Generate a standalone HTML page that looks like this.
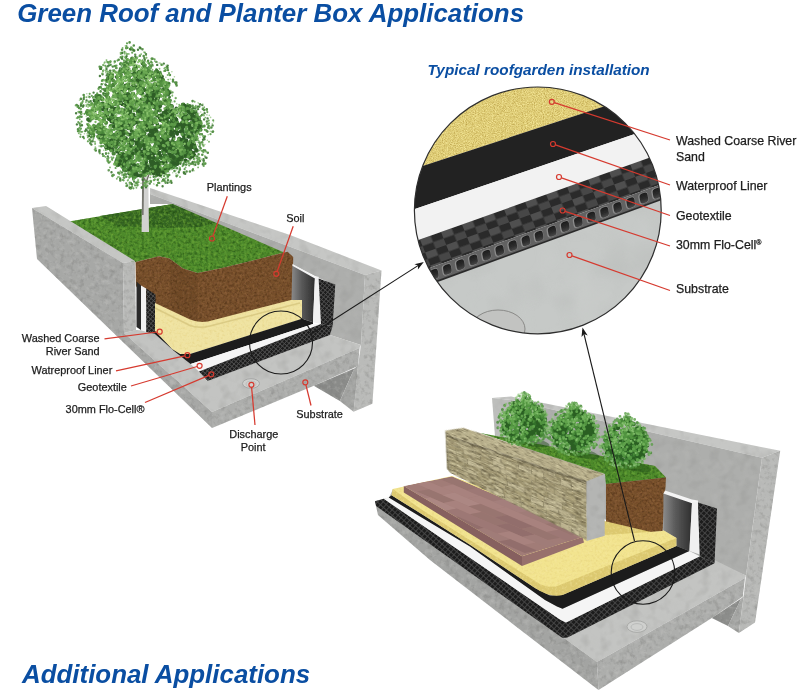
<!DOCTYPE html>
<html><head><meta charset="utf-8"><title>Green Roof and Planter Box Applications</title>
<style>
html,body{margin:0;padding:0;background:#fff;}
body{width:800px;height:692px;position:relative;overflow:hidden;font-family:"Liberation Sans",sans-serif;}
.t{position:absolute;white-space:nowrap;line-height:1;color:#1c1c1c;opacity:0.999;}
.h1{font:italic bold 25.9px "Liberation Sans",sans-serif;color:#0a4ea2;}
.h2{font:italic bold 15.3px "Liberation Sans",sans-serif;color:#0a4ea2;}
.s{font-size:10.9px;-webkit-text-stroke:0.25px #1c1c1c;}
.m{font-size:12.35px;-webkit-text-stroke:0.25px #1c1c1c;}
</style></head><body>
<svg width="800" height="692" viewBox="0 0 800 692" style="position:absolute;left:0;top:0"><defs><filter id="fConc" x="0" y="0" width="100%" height="100%" color-interpolation-filters="sRGB"><feTurbulence type="fractalNoise" baseFrequency="0.2" numOctaves="3" seed="3" result="n"/><feColorMatrix in="n" type="matrix" values="0 0 0 0 0.47  0 0 0 0 0.47  0 0 0 0 0.46  1.0 0 0 0 -0.47" result="a"/><feColorMatrix in="n" type="matrix" values="0 0 0 0 0.78  0 0 0 0 0.78  0 0 0 0 0.77  0 1.0 0 0 -0.47" result="a2"/><feMerge result="m"><feMergeNode in="a"/><feMergeNode in="a2"/></feMerge><feComposite in="m" in2="SourceGraphic" operator="in" result="b"/><feMerge><feMergeNode in="SourceGraphic"/><feMergeNode in="b"/></feMerge></filter><filter id="fConcS" x="0" y="0" width="100%" height="100%" color-interpolation-filters="sRGB"><feTurbulence type="fractalNoise" baseFrequency="0.1" numOctaves="2" seed="13" result="n"/><feColorMatrix in="n" type="matrix" values="0 0 0 0 0.52  0 0 0 0 0.52  0 0 0 0 0.51  0.6 0 0 0 -0.28" result="a"/><feColorMatrix in="n" type="matrix" values="0 0 0 0 0.76  0 0 0 0 0.76  0 0 0 0 0.75  0 0.6 0 0 -0.28" result="a2"/><feMerge result="m"><feMergeNode in="a"/><feMergeNode in="a2"/></feMerge><feComposite in="m" in2="SourceGraphic" operator="in" result="b"/><feMerge><feMergeNode in="SourceGraphic"/><feMergeNode in="b"/></feMerge></filter><filter id="fGrass" x="0" y="0" width="100%" height="100%" color-interpolation-filters="sRGB"><feTurbulence type="fractalNoise" baseFrequency="0.36" numOctaves="2" seed="5" result="n"/><feColorMatrix in="n" type="matrix" values="0 0 0 0 0.13  0 0 0 0 0.3  0 0 0 0 0.07  1.6 0 0 0 -0.66" result="a"/><feColorMatrix in="n" type="matrix" values="0 0 0 0 0.45  0 0 0 0 0.68  0 0 0 0 0.22  0 1.6 0 0 -0.66" result="a2"/><feMerge result="m"><feMergeNode in="a"/><feMergeNode in="a2"/></feMerge><feComposite in="m" in2="SourceGraphic" operator="in" result="b"/><feMerge><feMergeNode in="SourceGraphic"/><feMergeNode in="b"/></feMerge></filter><filter id="fSoil" x="0" y="0" width="100%" height="100%" color-interpolation-filters="sRGB"><feTurbulence type="fractalNoise" baseFrequency="0.4" numOctaves="2" seed="9" result="n"/><feColorMatrix in="n" type="matrix" values="0 0 0 0 0.3  0 0 0 0 0.18  0 0 0 0 0.08  1.6 0 0 0 -0.68" result="a"/><feColorMatrix in="n" type="matrix" values="0 0 0 0 0.58  0 0 0 0 0.4  0 0 0 0 0.23  0 1.6 0 0 -0.68" result="a2"/><feMerge result="m"><feMergeNode in="a"/><feMergeNode in="a2"/></feMerge><feComposite in="m" in2="SourceGraphic" operator="in" result="b"/><feMerge><feMergeNode in="SourceGraphic"/><feMergeNode in="b"/></feMerge></filter><filter id="fSand" x="0" y="0" width="100%" height="100%" color-interpolation-filters="sRGB"><feTurbulence type="fractalNoise" baseFrequency="0.4" numOctaves="2" seed="11" result="n"/><feColorMatrix in="n" type="matrix" values="0 0 0 0 0.88  0 0 0 0 0.79  0 0 0 0 0.46  1.1 0 0 0 -0.52" result="a"/><feColorMatrix in="n" type="matrix" values="0 0 0 0 0.97  0 0 0 0 0.92  0 0 0 0 0.66  0 1.1 0 0 -0.52" result="a2"/><feMerge result="m"><feMergeNode in="a"/><feMergeNode in="a2"/></feMerge><feComposite in="m" in2="SourceGraphic" operator="in" result="b"/><feMerge><feMergeNode in="SourceGraphic"/><feMergeNode in="b"/></feMerge></filter><filter id="fSand2" x="0" y="0" width="100%" height="100%" color-interpolation-filters="sRGB"><feTurbulence type="fractalNoise" baseFrequency="0.9" numOctaves="2" seed="21" result="n"/><feColorMatrix in="n" type="matrix" values="0 0 0 0 0.74  0 0 0 0 0.64  0 0 0 0 0.3  2.4 0 0 0 -1.05" result="a"/><feColorMatrix in="n" type="matrix" values="0 0 0 0 0.97  0 0 0 0 0.92  0 0 0 0 0.62  0 2.4 0 0 -1.05" result="a2"/><feMerge result="m"><feMergeNode in="a"/><feMergeNode in="a2"/></feMerge><feComposite in="m" in2="SourceGraphic" operator="in" result="b"/><feMerge><feMergeNode in="SourceGraphic"/><feMergeNode in="b"/></feMerge></filter><filter id="fSub" x="0" y="0" width="100%" height="100%" color-interpolation-filters="sRGB"><feTurbulence type="fractalNoise" baseFrequency="0.025" numOctaves="2" seed="8" result="n"/><feColorMatrix in="n" type="matrix" values="0 0 0 0 0.7  0 0 0 0 0.71  0 0 0 0 0.7  0.9 0 0 0 -0.42" result="a"/><feColorMatrix in="n" type="matrix" values="0 0 0 0 0.81  0 0 0 0 0.82  0 0 0 0 0.81  0 0.9 0 0 -0.42" result="a2"/><feMerge result="m"><feMergeNode in="a"/><feMergeNode in="a2"/></feMerge><feComposite in="m" in2="SourceGraphic" operator="in" result="b"/><feMerge><feMergeNode in="SourceGraphic"/><feMergeNode in="b"/></feMerge></filter><filter id="fStone" x="0" y="0" width="100%" height="100%" color-interpolation-filters="sRGB"><feTurbulence type="fractalNoise" baseFrequency="0.16 0.55" numOctaves="2" seed="14" result="n"/><feColorMatrix in="n" type="matrix" values="0 0 0 0 0.35  0 0 0 0 0.32  0 0 0 0 0.23  2.0 0 0 0 -0.9" result="a"/><feColorMatrix in="n" type="matrix" values="0 0 0 0 0.86  0 0 0 0 0.83  0 0 0 0 0.68  0 2.0 0 0 -0.9" result="a2"/><feMerge result="m"><feMergeNode in="a"/><feMergeNode in="a2"/></feMerge><feComposite in="m" in2="SourceGraphic" operator="in" result="b"/><feMerge><feMergeNode in="SourceGraphic"/><feMergeNode in="b"/></feMerge></filter><filter id="fPav" x="0" y="0" width="100%" height="100%" color-interpolation-filters="sRGB"><feTurbulence type="fractalNoise" baseFrequency="0.4" numOctaves="2" seed="15" result="n"/><feColorMatrix in="n" type="matrix" values="0 0 0 0 0.52  0 0 0 0 0.37  0 0 0 0 0.37  0.6 0 0 0 -0.27" result="a"/><feColorMatrix in="n" type="matrix" values="0 0 0 0 0.7  0 0 0 0 0.55  0 0 0 0 0.53  0 0.6 0 0 -0.27" result="a2"/><feMerge result="m"><feMergeNode in="a"/><feMergeNode in="a2"/></feMerge><feComposite in="m" in2="SourceGraphic" operator="in" result="b"/><feMerge><feMergeNode in="SourceGraphic"/><feMergeNode in="b"/></feMerge></filter>
<filter id="soft"><feGaussianBlur stdDeviation="0.55"/></filter>
<filter id="soft2"><feGaussianBlur stdDeviation="0.55"/></filter>
<pattern id="mesh" width="3.2" height="3.2" patternUnits="userSpaceOnUse" patternTransform="rotate(40)"><rect width="3.2" height="3.2" fill="#1d1d1d"/><path d="M0,0.4H3.2M0.4,0V3.2" stroke="#4e4e4e" stroke-width="0.8"/></pattern>
<pattern id="mesh2" width="4" height="4" patternUnits="userSpaceOnUse" patternTransform="rotate(42)"><rect width="4" height="4" fill="#1c1c1c"/><path d="M0,0.5H4M0.5,0V4" stroke="#474747" stroke-width="0.9"/></pattern>
<pattern id="checker" width="2" height="2" patternUnits="userSpaceOnUse" patternTransform="matrix(10.5,-3.78,2.6,6.5,420,239.5)"><rect width="2" height="2" fill="#2b2b2b"/><rect width="1" height="1" fill="#4f4f4f"/><rect x="1" y="1" width="1" height="1" fill="#474747"/></pattern><linearGradient id="gHole" x1="0" y1="0" x2="0" y2="1"><stop offset="0" stop-color="#1c1c1c"/><stop offset="0.6" stop-color="#2e2e2e"/><stop offset="1" stop-color="#484848"/></linearGradient>
<linearGradient id="gLinerUp" x1="0" y1="0" x2="1" y2="0"><stop offset="0" stop-color="#8a8a8a"/><stop offset="0.4" stop-color="#5c5c5c"/><stop offset="1" stop-color="#2e2e2e"/></linearGradient>
<clipPath id="bigc"><circle cx="537.8" cy="210.4" r="123.4"/></clipPath>
<clipPath id="pavc"><polygon points="403.75,486 452,476.5 584,533 582.5,537 522,556.25"/></clipPath>
</defs>
<g id="planter1" filter="url(#soft)">
<g filter="url(#fGrass)">
<polygon points="66.0,222.0 173.0,204.0 287.5,251.8 274.0,255.0 247.0,262.0 220.0,268.6 197.5,273.0 183.0,268.6 169.4,258.5 159.0,256.2 135.6,262.0 132.0,262.0" fill="#4d8a2c" />
<polygon points="100.0,216.0 173.0,204.0 218.0,222.0 200.0,227.0 165.0,228.0 118.0,226.0" fill="#356623" />
</g>
<g filter="url(#fConcS)">
<polygon points="150.0,188.0 290.0,235.0 381.5,270.5 365.0,275.0 150.0,194.0" fill="#c6c7c5" />
<polygon points="150.0,194.0 365.0,275.0 361.0,345.0 330.0,335.0 335.0,285.0 319.0,278.0 292.0,264.0 283.0,252.0 173.0,204.0 150.0,204.0" fill="#adaeac" />
<polygon points="32.0,208.0 46.0,206.0 135.0,261.0 123.0,263.0" fill="#c6c7c5" />
<polygon points="124.0,333.0 136.0,330.0 155.0,331.0 199.0,371.0 207.0,381.0 330.0,335.0 361.0,345.0 359.5,348.0 212.0,412.0" fill="#c3c4c2" />
</g>
<g filter="url(#fConc)">
<polygon points="32.0,208.0 123.0,263.0 124.0,333.0 212.0,412.0 212.0,428.0 37.0,259.0" fill="#a7a8a6" />
<polygon points="123.0,263.0 135.0,261.0 136.0,330.0 124.0,333.0" fill="#b9bab8" />
<polygon points="212.0,412.0 359.5,348.0 358.0,366.0 313.8,385.7 212.0,428.0" fill="#adaeac" />
<polygon points="313.8,385.7 354.3,368.4 339.9,401.0" fill="#8a8b89" />
<polygon points="354.3,368.4 358.0,365.5 356.0,390.0 353.6,411.8 339.9,401.0" fill="#a3a4a2" />
<polygon points="365.0,275.0 381.5,270.5 372.4,403.8 353.6,411.8 358.0,366.0 361.0,345.0" fill="#babbb9" />
</g>
<g filter="url(#fSoil)">
<polygon points="135.6,262.0 159.0,256.2 169.4,258.5 183.0,268.6 197.5,273.0 220.0,268.6 247.0,262.0 274.0,255.0 287.5,251.8 293.2,257.0 292.0,305.0 226.0,330.0 197.0,330.0 150.0,305.0 136.0,286.0" fill="#764f2c" />
</g>
<polygon points="169.4,258.5 183.0,268.6 197.5,273.0 198.0,322.0 172.0,310.0" fill="#4d3218" opacity="0.16"/>
<polygon points="136.5,281.5 141.0,285.5 141.0,330.0 136.5,327.0" fill="#2a2a2a" />
<polygon points="141.0,285.5 146.2,288.5 146.2,332.0 141.0,330.0" fill="#f2f2f2" />
<polygon points="146.2,288.5 155.5,294.5 155.5,334.0 146.2,332.0" fill="url(#mesh)" />
<g filter="url(#fSand)">
<path d="M155,303 L190,319.5 Q198,323 208,321.5 L291,300 L302,300 L302,319 L190,354 Q180,356 172,349 L155,331 Z" fill="#efe3a2"/>
</g>
<path d="M155,308 L189,325 Q198,329 210,326 L300,303" fill="none" stroke="#d6c67e" stroke-width="1.6" opacity="0.8"/>
<polygon points="292.4,265.0 315.0,277.6 313.0,322.3 302.0,318.7 302.0,300.0 291.5,300.0" fill="url(#gLinerUp)" />
<polygon points="292.4,264.0 314.5,276.3 318.6,276.8 318.6,278.5 314.5,278.3 292.4,265.8" fill="#f4f4f4" />
<polygon points="314.9,277.6 318.6,277.6 321.0,324.0 313.0,322.3" fill="#f0f0f0" />
<polygon points="318.6,278.5 335.3,284.6 332.6,326.0 321.0,324.0" fill="url(#mesh)" />
<polygon points="155.0,331.0 172.0,349.0 180.0,354.0 190.0,354.0 302.0,318.7 313.0,322.3 313.0,324.0 190.6,364.0 174.0,351.0 155.0,334.0" fill="#1c1c1c" />
<polygon points="190.6,364.0 313.0,324.0 321.0,324.0 199.0,371.5" fill="#f5f5f5" />
<polygon points="199.0,371.5 321.0,324.0 332.6,326.0 330.0,335.0 207.5,381.0" fill="url(#mesh)" />
<ellipse cx="251" cy="383.5" rx="8.5" ry="4.8" fill="#cfd0ce" stroke="#a2a3a1" stroke-width="0.9"/><ellipse cx="251" cy="384" rx="5" ry="2.8" fill="none" stroke="#b4b5b3" stroke-width="0.7"/>
</g>
<g id="tree" filter="url(#soft2)">
<polygon points="142.2,160.0 148.0,160.0 149.0,232.0 141.6,232.0" fill="#d2d2d0" />
<polygon points="142.2,160.0 144.4,160.0 143.6,215.0 141.9,215.0" fill="#77776f" />
<path d="M145,185 L150,172 M145,180 L138,168" stroke="#6a6a5e" stroke-width="1.2" fill="none"/>
<path d="M170.1,105.7h0M186.1,146.7h0M130.6,100.6h0M140.7,92.1h0M165.8,120.6h0M120.5,119.4h0M177.5,124.3h0M189.5,106.4h0M158.8,91.2h0M131.6,150.9h0M132.6,103.6h0M148.2,98.0h0M163.0,171.4h0M101.5,139.6h0M124.8,165.2h0M144.6,148.3h0M118.6,126.7h0M164.5,170.5h0M156.4,105.4h0M177.6,158.6h0M161.1,76.9h0M149.9,170.5h0M165.2,126.0h0M140.6,167.9h0M182.6,132.0h0M135.9,120.2h0M152.4,89.9h0M109.8,105.1h0M169.2,145.2h0M183.2,104.7h0M110.8,126.4h0M126.8,76.6h0M190.1,113.2h0M162.8,162.9h0M124.4,156.3h0M194.1,145.7h0M101.2,104.7h0M169.3,129.4h0M130.3,95.9h0M151.1,160.0h0M131.6,136.2h0M143.4,69.7h0M121.3,140.5h0M139.0,122.8h0M146.7,120.3h0M99.9,128.8h0M165.2,101.8h0M170.7,107.9h0M155.7,112.6h0M127.4,96.2h0M163.7,151.5h0M152.4,157.3h0M122.7,163.5h0M158.0,140.1h0M167.8,100.7h0M162.6,158.0h0M167.5,169.2h0M147.8,142.2h0M122.7,69.8h0M191.8,138.0h0M147.5,158.1h0M158.1,161.9h0M181.1,154.7h0M152.9,150.2h0M184.4,141.0h0M139.2,148.6h0M125.9,99.6h0M166.8,139.4h0M137.8,169.5h0M119.9,102.6h0M138.5,141.7h0M148.0,89.4h0M138.9,154.5h0M173.6,121.9h0M184.0,150.6h0M172.5,149.2h0M150.3,91.9h0M142.6,104.0h0M110.6,119.1h0M156.8,150.0h0M161.2,162.9h0M188.3,136.0h0M144.4,151.4h0M119.3,144.3h0M165.2,155.6h0M166.2,113.7h0M174.2,148.2h0M111.7,136.0h0M147.6,124.2h0M191.6,142.6h0M103.5,138.2h0M138.7,90.2h0M129.6,105.3h0M131.2,127.1h0M142.8,63.2h0M122.4,136.3h0M109.4,119.0h0M139.2,154.5h0M157.1,106.9h0M137.0,105.7h0M107.3,147.0h0M164.6,118.3h0M174.2,161.7h0M171.5,106.2h0M144.7,127.6h0M150.6,85.9h0M122.8,164.2h0M131.6,61.6h0M104.6,133.0h0M96.5,96.2h0M190.0,129.6h0M128.3,127.9h0M152.6,95.8h0M136.7,135.2h0M167.4,91.1h0M169.2,125.8h0M163.9,117.7h0M152.1,121.0h0M132.0,169.0h0M129.5,120.3h0M156.8,159.7h0M113.8,137.8h0M182.6,122.5h0M157.8,167.4h0M107.9,145.3h0M133.2,115.1h0M130.5,150.2h0M131.3,157.8h0M153.6,133.0h0M160.8,157.6h0M128.8,164.0h0M100.4,128.7h0M125.7,98.3h0M135.8,118.2h0M155.6,72.4h0M146.8,147.4h0M182.0,123.2h0M108.1,97.7h0M138.5,100.8h0M123.6,160.0h0M183.7,120.9h0M168.7,101.5h0M170.7,108.2h0M193.9,122.0h0M118.7,94.6h0M133.0,94.0h0M188.6,154.3h0M194.0,147.3h0M147.1,153.5h0M160.2,139.8h0M148.6,98.3h0M133.7,123.0h0M165.7,150.1h0M173.8,122.3h0M144.3,65.9h0M160.3,174.6h0M181.4,113.3h0M144.8,118.8h0M152.1,128.7h0M152.7,93.4h0M199.0,126.4h0M181.5,152.0h0M180.5,110.1h0M171.4,163.0h0M131.8,98.7h0M145.6,125.7h0M177.1,142.9h0M131.7,143.4h0M141.6,136.1h0M147.1,153.4h0M134.4,165.4h0M176.3,152.5h0M124.9,122.2h0M148.0,150.7h0M193.1,111.7h0M135.9,153.1h0M185.1,115.0h0M117.5,159.1h0M151.7,101.6h0M157.0,92.8h0M171.6,131.3h0M110.3,145.6h0M147.0,109.1h0M118.3,108.7h0M125.7,63.3h0M109.0,105.6h0M129.7,64.2h0M149.0,122.7h0M133.1,171.6h0M182.3,142.9h0M138.0,140.5h0M114.6,117.7h0M147.0,121.1h0M130.8,146.9h0M200.3,125.4h0M142.0,131.4h0M185.8,141.1h0M180.2,143.5h0M102.7,131.5h0M106.2,95.1h0M174.1,165.4h0M117.2,151.3h0M130.3,144.7h0M155.8,103.1h0M170.9,107.7h0M139.4,110.6h0M152.8,75.7h0M166.5,94.0h0M130.7,148.6h0M137.1,169.8h0M144.8,156.6h0M182.6,124.2h0M144.5,164.0h0M119.9,89.2h0M140.3,153.5h0M110.9,147.3h0M176.7,123.1h0M186.8,111.4h0M133.4,123.8h0M168.8,144.5h0M165.5,134.1h0M194.8,125.3h0M148.1,127.8h0M139.9,135.5h0M163.7,146.5h0M171.9,125.8h0M110.0,88.8h0M122.8,131.7h0M156.7,158.6h0M126.1,121.2h0M196.6,150.5h0M145.4,137.2h0M112.4,139.9h0M169.4,147.1h0M163.8,119.3h0M165.8,156.4h0M187.6,155.9h0M142.5,124.9h0M99.7,96.4h0M175.5,152.8h0M157.3,100.0h0M146.3,70.9h0M106.1,143.6h0M200.1,129.4h0M104.6,140.0h0M155.1,100.8h0M164.8,115.3h0M125.4,123.2h0M149.4,154.2h0M198.3,120.4h0M146.1,141.5h0M160.9,119.9h0M149.9,151.2h0M196.8,124.7h0M145.1,119.8h0M131.6,162.8h0M128.4,158.4h0M144.3,133.3h0M180.3,125.3h0M148.5,153.7h0M116.8,161.0h0M152.0,141.1h0M111.6,110.5h0M146.5,73.8h0M173.0,113.3h0M172.4,159.7h0M177.1,127.5h0M129.4,100.3h0M143.1,77.5h0M124.3,123.4h0M167.1,109.1h0M139.6,102.6h0M90.4,132.7h0M144.1,124.6h0M99.8,134.3h0M172.4,141.4h0M169.2,157.6h0M150.5,101.6h0" stroke="#3f7833" stroke-width="4.6" stroke-linecap="round" fill="none" opacity="1"/>
<path d="M155.8,144.0h0M137.2,149.3h0M122.8,166.8h0M146.7,105.9h0M125.2,132.2h0M117.0,125.3h0M161.2,80.7h0M187.2,152.6h0M119.6,95.7h0M129.4,109.9h0M170.9,150.0h0M142.1,130.5h0M113.8,90.6h0M157.3,71.9h0M121.8,154.3h0M190.4,136.5h0M158.0,145.2h0M172.4,117.8h0M112.0,75.0h0M191.3,136.7h0M171.9,121.3h0M124.6,115.7h0M145.0,123.2h0M138.2,82.2h0M114.0,135.0h0M127.5,157.6h0M181.7,159.4h0M186.5,123.8h0M146.7,152.8h0M132.2,156.3h0M163.2,136.6h0M150.0,88.3h0M153.5,95.7h0M124.7,168.6h0M160.1,74.2h0M146.1,143.3h0M189.0,123.9h0M168.2,131.5h0M188.2,150.3h0M126.5,140.3h0M178.4,145.5h0M93.2,135.4h0M163.2,150.9h0M102.9,132.2h0M195.8,139.0h0M133.0,148.4h0M113.3,85.0h0M143.3,140.8h0M162.0,120.1h0M112.0,107.3h0M194.1,128.7h0M195.8,131.4h0M97.4,100.5h0M155.9,103.5h0M133.5,132.4h0M133.1,118.8h0M159.8,110.4h0M151.6,102.6h0M130.2,163.6h0M128.2,84.5h0M125.2,127.0h0M138.9,156.5h0M103.4,127.6h0M174.0,152.2h0M144.0,128.1h0M120.9,157.5h0M149.2,139.3h0M128.2,156.6h0M103.6,141.2h0M166.3,118.8h0M165.6,157.8h0M148.0,128.9h0M144.8,121.2h0M141.4,143.5h0M145.0,119.9h0M167.1,135.3h0M187.4,118.7h0M166.9,169.9h0M122.3,78.5h0M127.3,94.4h0M153.4,161.2h0M171.1,132.3h0M126.1,169.7h0M120.4,102.9h0M101.3,98.6h0M142.0,128.7h0M124.1,169.7h0M145.7,108.3h0M165.2,167.7h0M156.1,141.9h0M121.8,156.7h0M132.0,122.1h0M149.5,88.1h0M104.6,109.4h0M126.5,106.4h0M173.1,119.0h0M140.2,167.1h0M151.3,163.2h0M130.1,116.8h0M165.3,166.9h0M129.9,155.2h0M152.2,132.4h0M158.5,171.5h0M172.0,129.8h0M146.1,117.2h0M167.8,91.8h0M186.9,131.4h0M153.0,158.0h0M117.9,118.9h0M172.6,144.2h0M105.0,116.4h0M125.5,62.5h0M111.1,141.6h0M179.2,139.0h0M180.8,127.6h0M110.5,146.6h0M129.1,76.3h0M115.9,147.0h0M125.2,146.6h0M123.5,139.5h0M130.6,113.4h0M137.1,87.7h0M177.7,145.2h0M174.9,112.2h0M175.3,164.4h0M97.6,101.8h0M134.1,69.2h0M140.5,102.0h0M106.5,90.1h0M111.2,77.9h0M123.3,71.3h0M134.1,122.7h0M149.1,99.8h0M126.4,169.8h0M93.0,133.3h0M162.2,170.7h0M151.5,95.1h0M110.6,86.3h0M168.8,168.1h0M159.0,78.0h0M194.9,147.5h0M133.9,85.8h0M165.5,124.9h0M168.3,122.7h0M129.3,166.9h0M135.9,67.7h0M189.9,143.6h0M125.6,111.6h0M141.6,113.1h0M172.5,145.1h0M146.3,127.7h0M188.0,125.6h0M145.8,156.5h0M156.3,131.2h0M146.2,161.2h0M116.8,120.5h0M150.1,148.1h0M181.1,125.5h0M146.0,122.4h0M163.5,89.6h0M195.3,127.5h0M139.6,73.3h0M134.7,107.9h0M142.7,152.3h0M138.3,88.7h0M128.2,73.0h0M138.6,85.1h0M121.8,96.8h0M180.6,149.0h0M123.8,111.2h0M108.2,87.0h0M130.7,142.6h0M168.7,107.3h0M136.9,170.8h0M107.5,148.0h0M158.7,86.2h0M116.4,143.0h0M98.1,131.9h0M168.1,136.6h0M150.4,139.0h0M155.1,146.4h0M133.7,121.1h0M145.8,103.2h0M148.0,115.4h0M141.8,73.2h0M132.5,59.2h0M132.2,58.8h0M160.8,144.2h0M121.9,82.9h0M197.9,119.8h0M128.7,149.3h0M122.2,120.5h0M113.7,153.4h0M166.2,129.2h0M169.2,110.9h0M161.0,90.7h0M163.0,130.5h0M155.9,140.3h0M142.9,87.1h0M156.4,91.4h0M192.6,155.2h0M133.7,173.0h0M92.4,129.0h0M162.6,79.7h0M105.9,141.3h0M192.2,131.0h0M124.9,155.2h0M128.1,109.2h0M97.2,95.8h0M186.4,131.5h0M138.3,126.3h0M179.4,139.0h0M103.7,120.1h0M123.1,149.5h0M173.2,111.6h0M174.3,157.3h0M89.6,120.4h0M197.3,131.7h0M186.6,135.5h0M149.7,105.3h0M143.4,109.6h0M148.9,85.3h0M160.9,139.6h0M156.2,172.4h0M162.9,128.2h0M163.1,142.0h0M118.9,124.0h0M156.5,139.1h0M110.8,149.1h0M196.8,123.9h0M146.6,69.3h0M130.9,74.7h0M185.2,107.9h0M165.0,112.6h0M137.2,73.1h0M106.3,147.2h0M139.7,116.0h0M123.9,89.1h0M147.0,130.0h0M114.9,103.6h0M142.3,142.4h0M136.7,103.1h0M102.3,99.0h0M128.8,146.5h0M129.1,165.1h0M114.5,142.1h0M164.6,169.2h0M157.1,98.5h0M163.9,171.1h0M137.7,117.3h0M134.3,60.7h0M194.2,119.9h0M172.0,167.3h0M127.5,109.8h0M147.6,155.8h0M133.6,107.9h0M130.2,146.0h0M142.0,93.4h0M121.2,138.6h0M117.5,165.1h0M150.1,85.2h0M183.9,142.6h0M189.6,126.5h0M133.0,171.0h0M145.0,114.1h0M120.1,155.1h0M167.2,118.3h0M119.5,96.5h0M112.1,110.1h0M124.8,165.1h0M144.5,128.4h0M191.4,137.1h0M154.3,79.6h0M170.7,135.6h0M187.9,109.9h0M148.3,145.3h0M137.6,87.7h0M157.7,135.7h0M159.5,76.8h0M143.6,174.4h0M125.3,66.3h0M107.9,140.1h0M133.8,70.4h0M121.7,127.3h0M177.3,142.9h0M177.4,149.3h0M196.2,132.9h0M182.2,147.2h0M124.7,100.2h0M191.7,145.2h0M151.2,86.8h0M135.1,108.2h0M120.9,137.6h0M131.6,156.7h0M139.1,75.4h0M133.9,177.3h0M121.3,81.7h0M134.5,74.1h0M173.9,125.9h0M182.8,105.2h0M150.9,96.0h0M127.7,96.8h0M114.7,122.9h0M105.8,108.9h0M187.5,154.0h0M132.0,173.9h0M116.4,162.8h0M130.8,139.0h0M136.5,143.7h0M138.8,132.3h0M144.0,126.9h0M110.6,117.8h0" stroke="#488439" stroke-width="4.4" stroke-linecap="round" fill="none" opacity="1"/>
<path d="M160.4,115.7h0M124.4,110.3h0M190.6,129.3h0M140.1,157.0h0M148.8,111.8h0M190.4,147.0h0M140.0,81.1h0M132.4,163.7h0M107.6,112.9h0M190.1,157.8h0M127.5,96.8h0M177.5,154.0h0M102.5,103.5h0M155.3,84.4h0M139.7,145.2h0M118.7,136.0h0M166.5,158.6h0M175.3,118.5h0M165.8,158.9h0M166.5,89.5h0M168.0,168.1h0M152.5,102.4h0M192.8,136.0h0M192.1,137.3h0M120.0,149.2h0M139.9,136.0h0M160.1,106.1h0M153.9,75.5h0M181.8,140.1h0M169.4,126.8h0M197.4,122.4h0M147.2,95.6h0M185.7,160.9h0M173.5,142.6h0M124.9,95.7h0M153.2,95.7h0M111.6,106.6h0M186.5,141.4h0M117.2,141.1h0M137.2,100.5h0M146.4,104.6h0M105.6,107.4h0M176.7,152.0h0M105.1,135.8h0M118.0,89.2h0M143.9,145.6h0M138.4,144.2h0M169.1,148.9h0M130.1,146.3h0M139.0,150.4h0M156.5,108.5h0M123.2,155.7h0M119.7,159.7h0M164.5,88.1h0M94.7,110.6h0M169.7,92.4h0M151.7,160.7h0M148.6,157.2h0M113.7,138.2h0M141.7,99.6h0M140.2,147.1h0M156.5,150.3h0M130.8,139.9h0M146.3,115.7h0M128.3,123.1h0M119.3,138.4h0M155.1,139.0h0M116.9,110.8h0M158.5,91.9h0M160.8,141.3h0M137.8,111.6h0M124.0,111.9h0M159.6,90.2h0M111.0,145.3h0M173.4,151.0h0M152.5,131.0h0M157.3,115.7h0M134.3,73.7h0M132.1,117.1h0M184.4,124.6h0M122.4,89.6h0M141.0,112.5h0M160.2,163.3h0M176.5,163.4h0M154.4,107.5h0M174.2,115.0h0M147.1,170.8h0M117.2,138.7h0M118.3,96.9h0M152.9,172.1h0M194.5,117.0h0M142.3,93.8h0M171.4,134.4h0M127.2,156.2h0M148.6,155.0h0M108.7,103.8h0M155.1,152.1h0M173.6,150.8h0M116.8,145.1h0M172.5,156.3h0M184.6,142.8h0M128.2,94.1h0M124.5,160.4h0M165.4,143.5h0M173.6,164.7h0M171.6,106.6h0M163.2,138.3h0M102.7,135.8h0M192.1,114.5h0M113.8,90.7h0M145.4,76.9h0M145.9,109.5h0M114.2,96.1h0M162.3,80.0h0M182.7,118.0h0M175.1,123.7h0M166.6,166.1h0M167.3,149.1h0M130.3,110.7h0M120.0,161.4h0M163.7,112.8h0M129.2,173.5h0M88.2,119.4h0M154.0,92.2h0M182.2,156.7h0M149.9,118.2h0M173.3,134.6h0M192.7,118.2h0M165.8,85.5h0M124.9,105.3h0M158.3,78.7h0M131.9,107.5h0M167.5,109.0h0M141.4,71.2h0M184.8,115.1h0M193.5,140.4h0M192.4,136.9h0M125.7,85.5h0M195.5,112.6h0M109.8,79.7h0M125.8,160.1h0M143.2,117.3h0M168.4,142.9h0M176.1,161.8h0M150.8,161.5h0M172.0,166.2h0M116.7,120.6h0M161.2,119.7h0M152.6,151.9h0M156.8,132.2h0M164.1,141.3h0M135.1,66.4h0M120.1,128.7h0M141.3,86.6h0M154.5,121.1h0M176.6,158.4h0M145.7,96.5h0M167.8,129.4h0M140.3,175.6h0M112.5,149.9h0M138.2,147.9h0M131.5,172.5h0M168.5,166.9h0M120.9,163.4h0M147.1,101.0h0M155.5,131.3h0M135.0,148.5h0M159.6,141.0h0M156.2,102.7h0M120.8,102.2h0M167.5,135.1h0M107.6,113.8h0M163.4,144.7h0M151.7,165.6h0M184.4,105.8h0M174.9,160.5h0M159.1,153.8h0M132.7,80.5h0M186.8,106.4h0M144.6,90.1h0M146.2,173.3h0M149.7,150.2h0M168.1,94.6h0M94.6,100.5h0M143.1,145.5h0M186.2,152.8h0M183.5,135.3h0M128.4,96.8h0M131.6,130.7h0M160.1,117.9h0M151.2,118.3h0M173.4,164.5h0M168.0,122.2h0M188.8,125.8h0M151.9,138.6h0M98.5,97.3h0M150.7,156.4h0M184.9,125.9h0M158.3,73.7h0M167.6,146.5h0M111.0,143.4h0M156.1,95.7h0M121.7,97.6h0M147.1,71.7h0M198.8,118.0h0M145.6,152.0h0M147.9,169.0h0M171.9,162.0h0M153.1,113.7h0M153.4,104.0h0M148.0,94.4h0M139.2,85.8h0M129.2,158.7h0M131.4,141.5h0M129.5,143.9h0M164.0,99.8h0M174.4,157.9h0M144.7,109.0h0M155.9,89.4h0M150.7,157.8h0" stroke="#35692c" stroke-width="4.2" stroke-linecap="round" fill="none" opacity="1"/>
<path d="M118.0,164.4h0M153.0,160.3h0M193.2,119.4h0M106.0,122.9h0M108.4,101.6h0M166.9,94.0h0M96.1,118.2h0M152.6,159.6h0M137.5,104.0h0M129.8,88.8h0M164.9,96.4h0M146.9,115.8h0M156.8,121.0h0M105.3,115.0h0M86.9,112.5h0M144.6,173.4h0M138.0,154.8h0M100.6,109.0h0M118.5,150.7h0M129.0,79.0h0M169.2,154.1h0M106.7,139.7h0M165.5,103.8h0M163.6,146.4h0M141.5,84.5h0M132.2,143.1h0M168.1,166.6h0M142.6,155.5h0M183.9,124.8h0M154.1,128.4h0M109.3,99.6h0M155.8,95.3h0M142.9,126.8h0M120.2,79.9h0M116.4,162.6h0M138.7,114.0h0M168.6,136.0h0M147.6,168.1h0M133.8,101.1h0M151.7,96.5h0M160.4,82.9h0M115.2,94.3h0M127.6,76.1h0M124.4,66.7h0M140.2,93.1h0M126.4,73.8h0M141.5,71.9h0M92.0,118.6h0M166.9,126.8h0M153.7,91.5h0M139.4,156.8h0M165.1,135.9h0M154.2,136.0h0M149.7,135.6h0M149.1,136.8h0M136.6,80.5h0M124.8,127.7h0M102.7,105.5h0M122.7,95.9h0M176.6,124.4h0M183.3,105.8h0M93.7,131.0h0M155.3,146.6h0M106.2,122.7h0M190.4,141.3h0M112.1,140.7h0M157.4,127.3h0M119.9,95.7h0M130.5,61.5h0M113.3,80.7h0M137.3,155.6h0M118.2,80.0h0M165.1,167.5h0M184.6,148.5h0M127.7,88.1h0M164.4,115.6h0M113.9,122.0h0M129.7,149.4h0M149.4,146.5h0M149.2,75.9h0M112.0,125.7h0M154.0,88.8h0M170.5,157.0h0M161.5,85.4h0M99.5,107.2h0M177.0,122.0h0M127.6,86.4h0M190.0,147.0h0M107.0,81.1h0M167.3,92.6h0M110.6,112.0h0M197.2,127.7h0M128.1,148.3h0M151.4,116.7h0M99.4,132.2h0M179.8,148.7h0M132.3,134.5h0M160.2,126.5h0M134.0,136.2h0M125.5,147.7h0M120.5,138.1h0M146.0,116.7h0M149.1,70.7h0M181.5,130.1h0M157.0,104.6h0M144.4,111.1h0M147.8,154.1h0M182.7,147.4h0M115.5,101.8h0M117.6,161.2h0M184.4,152.2h0M156.0,127.6h0M154.9,119.0h0M160.9,126.2h0M144.0,124.1h0M138.4,77.1h0M180.4,153.7h0M160.2,95.7h0M140.0,167.8h0M139.5,104.4h0M137.6,73.2h0M115.4,144.2h0M93.8,115.6h0M134.1,167.5h0M192.0,129.6h0M112.7,115.6h0M132.8,94.1h0M121.0,99.3h0M117.4,95.8h0M181.4,127.6h0M95.4,103.6h0M107.8,78.5h0M197.5,117.1h0M87.8,113.2h0M157.7,96.5h0M114.9,111.4h0M170.3,123.2h0M151.9,90.4h0M130.5,158.9h0M92.9,131.6h0M154.6,89.7h0M148.8,86.5h0M107.2,96.8h0M149.5,146.3h0M152.7,148.3h0M139.1,130.9h0M170.4,165.6h0M135.3,76.9h0M120.4,72.7h0M173.1,119.7h0M106.0,140.5h0M103.0,116.2h0M127.9,68.5h0M146.0,112.6h0M106.0,139.7h0M157.0,135.1h0M116.8,134.3h0M167.7,85.3h0M119.4,118.7h0M199.2,123.7h0M121.1,74.9h0M127.0,133.3h0M190.9,116.3h0M153.1,167.3h0M147.0,106.8h0M164.6,160.0h0M144.8,168.6h0M128.2,162.8h0M147.5,139.4h0M154.7,102.2h0M130.7,117.5h0M148.3,104.2h0M104.5,129.9h0M157.6,76.5h0M121.5,146.6h0M96.1,108.8h0M96.1,126.6h0M182.3,142.1h0M121.2,85.4h0M120.9,163.7h0M180.6,147.5h0M156.8,153.5h0M182.2,141.4h0M185.1,156.5h0M180.9,147.4h0M170.8,124.0h0M162.1,103.3h0M150.9,129.2h0M135.9,118.4h0M148.9,147.1h0M191.9,134.5h0M168.7,130.7h0M136.8,148.9h0M123.7,127.2h0M104.4,142.0h0M97.9,98.1h0M123.4,136.6h0M191.7,139.8h0M145.6,144.3h0M125.9,73.8h0M145.1,113.8h0M160.5,102.7h0M150.0,109.1h0M175.1,123.9h0M133.2,161.9h0M128.0,169.4h0M130.0,80.7h0M124.0,69.0h0M135.1,161.1h0M166.0,165.2h0M98.8,137.3h0M154.2,84.2h0M160.4,102.2h0M130.3,126.7h0M158.5,81.2h0M145.7,154.3h0M191.3,122.8h0M189.5,144.7h0M100.5,114.2h0M145.7,156.1h0M180.6,107.9h0M97.7,115.9h0M122.6,111.2h0M168.1,158.7h0M161.3,90.7h0M158.2,75.3h0M152.4,127.7h0M87.7,113.7h0M142.6,123.2h0M137.0,175.4h0M121.7,77.5h0M135.1,176.8h0M144.8,112.7h0M122.5,153.7h0M146.7,104.4h0M163.2,80.6h0M140.8,108.9h0M133.4,82.7h0M141.7,108.5h0M160.7,133.4h0M179.8,109.6h0M166.6,108.4h0M187.8,149.0h0M145.1,117.8h0M127.3,100.6h0M121.4,111.9h0M178.2,124.3h0M134.5,75.3h0M109.4,135.6h0M184.6,123.6h0M141.4,105.6h0M112.1,115.0h0M156.1,167.1h0M101.5,124.9h0M198.9,121.8h0M108.7,117.9h0M132.7,153.3h0M136.8,166.7h0M165.6,87.8h0M118.5,108.8h0M100.5,131.0h0M142.8,82.0h0M146.1,105.8h0M109.8,75.3h0M115.1,126.9h0M141.4,74.0h0M97.6,99.0h0M92.5,109.8h0M128.9,142.4h0M166.5,158.3h0M144.4,72.6h0M140.1,158.4h0M107.7,93.3h0M186.6,120.8h0M143.2,85.6h0M144.4,159.4h0M146.3,122.4h0M149.0,145.2h0M151.3,124.4h0M114.6,91.3h0M155.2,114.6h0M99.0,124.6h0M113.8,145.3h0M106.3,89.6h0M183.7,153.7h0M121.1,161.5h0M170.0,156.7h0M176.8,112.6h0M150.0,127.4h0M93.6,106.0h0M175.4,143.3h0M145.7,142.6h0M124.9,118.4h0M167.1,107.7h0M166.2,148.6h0M132.2,104.3h0M124.9,88.0h0M175.1,145.5h0M156.0,173.1h0M129.9,96.4h0M152.0,104.3h0M117.4,111.8h0M135.3,174.1h0M153.3,77.1h0M119.0,73.1h0M128.5,151.5h0M116.9,145.1h0M103.9,120.3h0M93.7,131.8h0M152.8,100.0h0M163.9,169.3h0M120.6,86.4h0M124.1,91.4h0M129.3,103.0h0M156.7,163.5h0M139.2,160.1h0M120.6,75.4h0M156.1,113.2h0M147.3,141.6h0M157.3,88.6h0M144.1,143.9h0M121.8,118.1h0M132.1,173.1h0M117.2,162.5h0M157.3,174.8h0M178.9,141.9h0M118.9,155.8h0M168.2,83.5h0M123.6,115.4h0M138.1,88.4h0M97.9,106.8h0M151.6,138.7h0M118.4,136.4h0M90.4,128.1h0M196.4,137.1h0M99.9,114.9h0M120.5,159.8h0M143.9,170.6h0M165.5,140.4h0M124.0,87.2h0" stroke="#528f40" stroke-width="4" stroke-linecap="round" fill="none" opacity="1"/>
<path d="M171.5,119.0h0M145.2,137.2h0M183.0,117.8h0M146.0,163.1h0M145.9,78.5h0M144.2,167.2h0M173.8,137.2h0M190.3,149.1h0M165.9,110.6h0M142.4,114.5h0M111.3,140.2h0M162.6,120.9h0M125.6,100.9h0M137.4,76.4h0M134.2,165.0h0M192.8,142.6h0M161.5,115.0h0M177.4,164.2h0M164.2,172.7h0M163.9,143.7h0M163.2,145.7h0M136.1,150.6h0M188.6,136.9h0M176.1,132.2h0M194.2,143.7h0M147.9,103.1h0M176.9,133.8h0M164.8,150.0h0M198.4,124.9h0M189.9,112.8h0M148.0,165.7h0M182.6,124.0h0M171.0,134.5h0M129.3,88.3h0M191.8,133.1h0M166.0,162.2h0M149.7,122.7h0M128.7,122.7h0M136.7,117.8h0M155.3,170.7h0M113.1,111.3h0M198.7,122.9h0M130.9,167.8h0M152.0,132.6h0M123.6,140.4h0M190.5,150.9h0M182.5,126.7h0M158.3,107.6h0M126.2,161.8h0M178.2,124.5h0M170.9,114.6h0M191.1,153.2h0M144.1,116.5h0M95.4,128.6h0M194.1,143.7h0M153.7,158.2h0M110.6,77.2h0M171.9,108.8h0M149.0,168.1h0M165.5,139.5h0M159.7,152.5h0M170.4,131.4h0M165.5,112.2h0M170.2,148.5h0M191.6,147.8h0M166.5,146.0h0M123.6,154.4h0M169.0,153.7h0M97.9,99.4h0M146.7,154.1h0M153.5,173.7h0M191.6,116.0h0M162.0,116.8h0M117.6,132.0h0M159.5,118.0h0M152.8,165.0h0M156.7,101.5h0M124.4,104.2h0M152.9,135.9h0M193.9,120.9h0M122.2,125.6h0M164.0,147.9h0M163.6,153.1h0M152.7,165.2h0M179.3,154.9h0M126.0,138.0h0M147.9,125.4h0M128.1,115.8h0M161.1,138.7h0M173.1,162.7h0M170.9,113.1h0M119.1,164.7h0M187.8,148.0h0M161.0,116.3h0M186.4,143.5h0M121.9,156.9h0M182.5,130.5h0M163.5,140.8h0M153.2,162.1h0M132.9,85.5h0M159.1,171.8h0M158.4,146.5h0M193.4,154.2h0M146.4,97.7h0M142.4,151.5h0M163.8,145.8h0M122.3,104.5h0M164.7,148.8h0M139.3,76.9h0M173.2,157.5h0M115.5,121.8h0M167.4,114.2h0M109.5,146.1h0M157.9,168.2h0M174.6,151.1h0M199.8,121.2h0M192.9,156.6h0M157.0,174.7h0M150.8,97.8h0M135.1,174.4h0M115.1,108.5h0M113.3,122.1h0M127.4,103.7h0M147.5,129.2h0M174.9,163.7h0M128.6,134.7h0M151.9,155.2h0M136.9,151.8h0M132.7,138.1h0M137.3,87.1h0M139.7,81.9h0M112.6,114.6h0M123.0,165.6h0M153.4,95.7h0M123.8,164.6h0M176.3,108.3h0M185.6,160.2h0M111.0,120.9h0M159.6,148.4h0M108.7,118.7h0M185.3,121.0h0M180.0,124.8h0M162.7,172.2h0M162.8,145.9h0M117.4,151.6h0M152.1,124.2h0M120.9,129.0h0M153.1,169.3h0M180.5,131.6h0M160.5,155.6h0M152.8,90.7h0M191.0,119.0h0M132.7,153.5h0M193.6,152.5h0M177.3,134.1h0M149.0,134.9h0M161.4,142.8h0M194.4,154.8h0M119.6,153.3h0M191.1,146.6h0M146.6,129.1h0M111.4,121.7h0M152.6,156.5h0M196.1,149.9h0M176.9,128.9h0M166.4,145.4h0M143.9,172.0h0M181.1,139.6h0M116.2,144.3h0M158.9,80.6h0M186.2,140.0h0M140.6,72.3h0M177.0,150.2h0M153.3,162.8h0M108.2,146.2h0M179.8,161.1h0M198.1,127.6h0M158.9,168.0h0M190.1,117.9h0M193.0,139.4h0M158.3,153.2h0M151.0,161.7h0M157.4,124.4h0M109.0,76.0h0M159.6,168.3h0M162.1,76.5h0M120.3,161.0h0M110.5,148.4h0M130.1,134.3h0M145.3,168.0h0M178.0,161.1h0M153.5,162.5h0M143.1,100.0h0M199.7,126.2h0M138.9,71.5h0M178.5,152.9h0M119.0,92.5h0M131.8,124.9h0M123.7,134.1h0M171.6,110.8h0M153.8,153.7h0M164.7,142.5h0M158.3,98.1h0M179.3,162.6h0M190.5,152.1h0M148.4,101.4h0M134.2,61.2h0M116.6,77.1h0M157.0,169.7h0M149.6,94.2h0M136.3,141.9h0M136.9,173.7h0M121.7,136.1h0M149.0,155.4h0M154.1,134.4h0M185.1,149.5h0M156.0,130.0h0M150.3,131.5h0M150.9,103.6h0M106.5,109.2h0M120.7,132.8h0M170.1,143.1h0M151.5,164.1h0M157.4,163.1h0M154.0,94.4h0M193.0,115.8h0M130.1,147.6h0M184.1,105.7h0M159.6,140.7h0M128.4,101.4h0M113.9,126.4h0M106.4,147.7h0M127.7,146.5h0M121.9,130.3h0M132.1,118.0h0M136.1,146.2h0M104.3,107.7h0M176.5,126.7h0M107.6,116.1h0M136.7,144.4h0M153.7,166.2h0M144.4,128.9h0M152.6,161.6h0M190.1,128.0h0M178.6,161.5h0M150.9,130.6h0M162.1,148.0h0M196.7,131.9h0M151.6,169.3h0M184.9,124.9h0M145.0,170.6h0M155.1,129.4h0M158.9,165.6h0M173.5,157.9h0M112.0,147.4h0M153.6,156.8h0M150.2,158.0h0M176.6,119.6h0M169.5,117.3h0M146.3,172.1h0M167.9,140.1h0M163.6,153.8h0M184.5,105.8h0M137.1,141.2h0M147.6,165.4h0M112.2,109.2h0M156.7,99.2h0M156.8,102.0h0M161.6,145.8h0M137.6,80.1h0M191.7,128.0h0M144.0,140.1h0M160.7,119.1h0M103.0,109.7h0M125.9,161.1h0M159.9,174.7h0M195.3,121.6h0M186.3,114.7h0M147.4,93.0h0M96.7,128.5h0M112.1,77.3h0M185.6,146.3h0M136.0,122.8h0M140.3,150.7h0M172.0,154.4h0M150.8,135.4h0M160.5,117.4h0M188.6,118.8h0M167.3,143.5h0M165.9,141.1h0M170.5,156.3h0M178.7,161.2h0M135.1,149.1h0M155.0,163.6h0M142.4,155.7h0M194.8,139.2h0M184.3,143.1h0M109.6,79.6h0M183.9,137.5h0M172.2,132.8h0M128.6,125.5h0M87.5,111.1h0M156.0,171.8h0M145.0,127.9h0M106.3,109.6h0M182.8,133.2h0M129.6,113.7h0M100.0,137.5h0M166.7,151.2h0M178.0,154.3h0M173.3,138.7h0M119.7,164.2h0M164.0,152.1h0M181.9,124.6h0M171.5,122.7h0M191.8,152.1h0M188.3,118.0h0M133.1,141.1h0M138.8,111.1h0M185.3,155.9h0M123.0,130.2h0M169.4,144.8h0M163.5,162.3h0M191.5,112.1h0M154.3,104.0h0M179.0,158.2h0M100.5,136.0h0M162.8,168.7h0M182.8,127.8h0M129.1,143.0h0M107.0,114.3h0M128.6,158.2h0M191.6,145.4h0M188.2,111.2h0M183.2,127.5h0M185.5,150.4h0M136.5,151.1h0M139.2,138.8h0M148.3,157.0h0M177.7,132.3h0M159.6,126.8h0M166.2,119.0h0M137.4,165.4h0M152.6,99.0h0M146.9,125.5h0M196.5,114.8h0M157.9,171.4h0M128.9,170.0h0M155.1,137.4h0M143.8,144.9h0M192.3,113.5h0M125.6,94.5h0M130.8,157.3h0M144.4,149.4h0M181.9,157.7h0M169.3,143.4h0M129.8,156.9h0M197.3,119.3h0M133.7,115.1h0M160.1,169.0h0M152.3,130.5h0M189.6,125.2h0M174.9,131.3h0M121.5,131.3h0M124.7,63.7h0M165.9,168.9h0M163.6,116.5h0M158.1,167.5h0M137.9,175.5h0M156.9,110.7h0M127.3,69.3h0M120.3,130.2h0M172.9,146.4h0" stroke="#2d5d26" stroke-width="3.6" stroke-linecap="round" fill="none" opacity="1"/>
<path d="M129.6,172.7h0M110.1,85.3h0M147.0,92.3h0M144.9,67.9h0M145.2,71.4h0M141.2,163.3h0M163.3,83.3h0M137.7,159.4h0M126.7,115.5h0M193.4,141.5h0M127.1,152.6h0M143.5,162.7h0M161.8,133.9h0M145.4,98.2h0M120.2,133.8h0M131.3,137.2h0M141.8,122.4h0M155.3,122.8h0M140.6,159.5h0M140.4,126.1h0M164.0,137.2h0M149.9,94.7h0M145.7,71.6h0M177.2,156.1h0M114.3,137.6h0M118.5,125.0h0M120.3,71.4h0M115.9,102.5h0M101.3,123.5h0M116.8,122.2h0M132.2,116.7h0M174.4,124.6h0M136.4,134.8h0M133.4,79.1h0M98.6,98.3h0M115.6,82.0h0M115.3,95.5h0M137.2,127.1h0M147.2,105.8h0M125.2,77.4h0M101.1,142.3h0M172.4,152.2h0M124.5,96.5h0M197.6,133.0h0M150.9,72.0h0M112.4,104.8h0M150.5,98.9h0M128.0,165.7h0M111.2,130.3h0M110.8,77.1h0M122.7,110.0h0M87.9,114.3h0M142.2,90.9h0M176.2,109.8h0M125.2,141.2h0M150.6,90.1h0M185.7,113.5h0M168.9,160.7h0M147.1,173.6h0M150.2,111.7h0M178.4,145.5h0M110.0,99.8h0M97.6,118.4h0M155.3,72.9h0M162.3,168.8h0M126.1,120.1h0M121.3,123.1h0M151.9,71.9h0M193.9,139.1h0M175.4,109.7h0M173.4,144.0h0M117.7,158.1h0M119.0,85.4h0M101.1,104.3h0M132.3,137.1h0M117.1,90.8h0M122.5,149.4h0M133.3,168.0h0M146.1,116.6h0M118.4,74.2h0M147.2,116.1h0M165.3,116.7h0M121.1,128.4h0M146.9,141.2h0M191.7,109.5h0M195.9,137.3h0M125.2,155.1h0M184.7,118.0h0M140.8,157.7h0M181.1,154.1h0M188.4,116.9h0M175.2,151.8h0M127.6,162.9h0M134.4,68.9h0M162.6,136.6h0M96.3,100.0h0M105.6,111.5h0M136.5,136.5h0M108.5,130.7h0M120.1,132.7h0M128.2,75.3h0M131.0,60.1h0M125.5,169.6h0M127.5,59.7h0M164.0,152.9h0M181.9,143.6h0M117.3,129.1h0M143.6,114.8h0M157.1,107.5h0M120.2,82.5h0M166.5,92.4h0M99.4,108.9h0M177.1,142.3h0M119.1,112.9h0M106.0,136.3h0M100.1,110.9h0M132.9,157.6h0M123.2,138.1h0M111.8,142.2h0M140.5,171.9h0M143.8,75.0h0M139.8,75.9h0M87.3,110.6h0M132.5,143.0h0M183.5,107.6h0M191.8,111.3h0M116.1,163.8h0M143.8,69.5h0M124.4,69.4h0M90.0,111.0h0M127.3,84.4h0M168.3,115.6h0M171.7,124.3h0M128.9,148.2h0M185.9,129.7h0M130.5,176.1h0M187.5,108.4h0M154.0,120.7h0M145.9,136.6h0M146.3,80.3h0M133.9,88.8h0M107.2,113.1h0M126.8,146.8h0M166.3,103.2h0M133.5,147.9h0M155.9,148.9h0M166.0,90.5h0M108.2,87.9h0M115.4,112.0h0M124.9,142.8h0M126.0,98.2h0M135.3,96.0h0M125.5,102.2h0M185.9,117.9h0M144.9,151.7h0M155.2,166.5h0M164.5,94.5h0M137.9,164.6h0M91.0,118.8h0M100.7,113.1h0M119.3,119.8h0M134.0,170.7h0M131.3,104.0h0M107.3,99.6h0M143.8,104.6h0M131.5,87.9h0M165.3,138.8h0M180.9,115.1h0M101.0,142.7h0M143.5,99.6h0M135.3,75.7h0M148.3,113.6h0M158.7,87.9h0M180.1,145.1h0M196.7,125.0h0M144.9,118.9h0M123.7,145.5h0M132.6,104.3h0M182.2,114.5h0M129.3,121.4h0M121.7,138.7h0M97.7,105.6h0M108.6,106.5h0M182.1,134.2h0M139.8,130.3h0M91.8,103.8h0M152.0,117.1h0M188.4,143.5h0M167.5,170.9h0M89.1,126.3h0M109.4,145.0h0M105.3,110.2h0M145.6,137.0h0M127.9,145.3h0M124.5,137.0h0M90.4,115.9h0M129.6,128.2h0M117.3,77.2h0M147.0,108.1h0M93.7,125.5h0M158.4,79.4h0M171.4,106.2h0M158.5,137.2h0M159.0,80.4h0M140.4,82.7h0M201.1,123.2h0M100.3,120.0h0M169.2,102.4h0M127.1,86.7h0M127.6,72.0h0M157.1,102.1h0M149.8,115.5h0M120.2,93.6h0M144.3,100.1h0M176.9,129.2h0M91.2,132.6h0M166.0,171.5h0M144.5,83.5h0M150.7,120.4h0M125.7,119.8h0M136.5,106.9h0M139.5,71.9h0M146.5,138.8h0M186.5,127.4h0M152.2,114.4h0M144.6,116.5h0M125.0,92.7h0M120.9,79.3h0M196.9,114.8h0M131.8,89.7h0M108.4,98.9h0M155.8,111.3h0M156.8,134.3h0M129.4,76.6h0M107.6,101.6h0M143.9,63.7h0M115.4,83.2h0M155.1,103.2h0M141.0,88.4h0M168.3,105.5h0M116.4,102.0h0M93.0,128.9h0M105.9,106.7h0M188.3,156.6h0M196.7,123.5h0M157.7,137.2h0M189.1,117.3h0M150.0,110.1h0M102.9,113.6h0M183.6,110.7h0M167.4,87.2h0M125.9,118.1h0M149.7,105.8h0M196.0,119.8h0M109.4,85.7h0M154.9,88.3h0M118.0,106.7h0M110.2,102.2h0M120.2,97.0h0M180.1,106.6h0M141.3,83.1h0M163.7,159.5h0M111.4,131.9h0M196.2,123.7h0M129.7,90.9h0M146.7,139.4h0M147.5,83.3h0M109.0,143.6h0M132.7,161.7h0M166.2,82.6h0M158.0,143.1h0M130.2,63.4h0M160.7,132.1h0M181.6,114.3h0M97.7,136.4h0M117.9,105.9h0M143.3,127.4h0M142.9,168.4h0M184.6,150.3h0M109.1,87.6h0M149.5,124.5h0M121.3,86.1h0M146.9,81.4h0M150.7,112.3h0M107.8,133.8h0M169.3,151.3h0M114.8,104.8h0M125.2,118.5h0M139.8,77.4h0M122.9,68.8h0M107.4,113.3h0M167.6,166.9h0M96.9,109.2h0M143.1,115.1h0M98.1,126.1h0M151.1,118.7h0M111.1,150.8h0M186.1,121.7h0M109.9,80.7h0M138.6,127.8h0M91.8,113.7h0M114.9,164.0h0M98.4,128.7h0M114.1,129.4h0M129.4,86.6h0M145.2,175.3h0M131.7,161.1h0M136.8,158.1h0M136.1,168.2h0M190.6,152.2h0M113.9,113.1h0M137.3,104.5h0M154.9,151.8h0M147.5,89.0h0M199.2,122.3h0M163.9,125.5h0M132.1,94.6h0" stroke="#5d9b48" stroke-width="3.4" stroke-linecap="round" fill="none" opacity="1"/>
<path d="M141.0,70.3h0M159.6,93.1h0M164.9,167.2h0M130.3,101.7h0M109.6,82.9h0M97.4,106.3h0M115.9,110.5h0M96.9,108.4h0M117.4,76.2h0M149.3,78.0h0M148.5,153.7h0M120.3,92.2h0M123.0,86.1h0M92.6,105.3h0M148.5,123.7h0M106.7,105.2h0M144.2,71.3h0M110.1,78.2h0M148.5,139.2h0M106.2,129.2h0M160.6,140.3h0M160.7,117.9h0M127.4,107.0h0M154.7,87.6h0M157.5,96.0h0M156.3,119.9h0M121.6,138.2h0M111.9,76.4h0M143.6,116.3h0M91.8,112.4h0M138.0,153.5h0M142.7,98.7h0M163.4,160.0h0M114.9,95.5h0M129.3,104.6h0M196.1,134.9h0M141.8,164.8h0M132.3,124.2h0M158.2,139.0h0M152.6,111.6h0M118.4,100.0h0M136.4,160.6h0M154.5,86.8h0M117.1,87.7h0M112.3,90.3h0M131.7,125.5h0M117.8,123.4h0M135.2,132.8h0M188.9,116.2h0M147.1,111.4h0M177.6,143.6h0M108.5,129.9h0M124.1,164.3h0M125.5,89.4h0M107.8,106.4h0M137.4,117.1h0M140.7,101.5h0M151.2,85.0h0M147.6,143.5h0M126.2,122.2h0M139.3,89.8h0M128.5,139.6h0M154.6,74.8h0M153.5,148.6h0M135.9,130.5h0M174.1,138.9h0M146.6,73.0h0M99.4,136.2h0M137.8,169.8h0M108.4,99.5h0M147.4,112.4h0M195.9,127.6h0M115.2,115.9h0M137.3,114.1h0M137.2,135.1h0M143.7,166.3h0M105.0,131.8h0M126.3,124.8h0M126.6,158.6h0M126.7,123.2h0M138.4,77.3h0M115.1,96.1h0M149.3,82.7h0M122.5,112.4h0M108.5,136.8h0M102.5,121.4h0M162.3,130.5h0M171.3,118.4h0M152.2,126.2h0M154.6,122.3h0M148.0,86.4h0M156.9,88.3h0M188.9,133.5h0M141.4,139.2h0M178.5,139.3h0M128.5,80.6h0M172.5,142.8h0M130.4,71.4h0M168.3,145.2h0M112.2,111.7h0M113.1,76.7h0M117.3,155.9h0M153.1,138.1h0M135.7,146.4h0M133.8,106.4h0M150.8,85.7h0M91.9,116.8h0M104.2,121.9h0M169.2,127.9h0M149.0,92.4h0M144.9,139.8h0M107.4,114.3h0M107.8,89.9h0M166.2,157.8h0M127.1,98.6h0M196.5,123.1h0M166.7,143.2h0M128.4,79.8h0M126.6,114.9h0M108.7,107.3h0M151.2,73.0h0M163.3,123.5h0M157.4,80.3h0M168.8,84.8h0M115.2,96.8h0M168.1,142.7h0M163.1,145.5h0M138.9,100.2h0M167.8,164.9h0M173.4,148.2h0M192.2,155.0h0M111.8,146.3h0M164.5,146.0h0M144.3,72.4h0M162.4,121.8h0M131.8,115.0h0M137.9,92.5h0M192.5,138.0h0M140.8,92.9h0M112.2,137.3h0M168.6,104.1h0M143.6,133.8h0M161.7,96.4h0M158.5,126.1h0M112.3,121.0h0M115.3,97.4h0M121.8,82.5h0M101.1,113.2h0M144.3,84.0h0M180.1,110.0h0M158.2,83.9h0M141.8,118.6h0M147.4,153.9h0M89.0,127.8h0M180.3,151.6h0M123.1,143.5h0M132.2,96.6h0M135.4,134.3h0M92.7,108.3h0M96.6,115.5h0M100.7,122.5h0M125.7,90.2h0M175.3,116.0h0M119.3,122.6h0M112.7,97.2h0M154.8,88.6h0M151.7,81.1h0M110.0,137.3h0M116.4,138.6h0M183.0,106.8h0M105.6,118.2h0M150.9,142.2h0M141.6,134.1h0M115.9,132.6h0M121.4,128.7h0M135.3,118.5h0M93.8,116.6h0M139.1,136.2h0M161.6,95.9h0M149.4,127.0h0M133.7,102.4h0M110.3,132.6h0M166.7,126.0h0M106.4,104.1h0M119.8,81.9h0M121.7,79.9h0M115.1,144.1h0M101.0,140.6h0M138.6,74.6h0M139.2,72.8h0M180.5,162.4h0M134.4,122.6h0M127.6,134.8h0M136.4,58.6h0M136.6,98.3h0M125.3,80.8h0M116.7,89.0h0M128.9,152.1h0M118.3,103.3h0M134.0,111.1h0M121.8,88.7h0M131.0,101.1h0M179.9,117.0h0M153.1,141.7h0M107.4,133.9h0M140.0,169.4h0M165.3,136.1h0M101.5,105.3h0M99.4,102.9h0M115.7,72.4h0M101.5,120.8h0M99.2,97.4h0M136.9,107.4h0M119.5,129.1h0M106.0,112.1h0M101.4,123.3h0M117.2,75.2h0M121.1,87.6h0M164.7,108.6h0M157.4,108.9h0M152.3,139.3h0M142.7,160.9h0M152.7,115.1h0M115.6,121.5h0M151.2,112.2h0M139.5,60.6h0M139.1,66.5h0M137.0,132.3h0M157.6,126.1h0M153.0,171.4h0M147.3,149.1h0M116.3,126.0h0M128.5,116.5h0M157.6,156.2h0M160.3,167.0h0M162.6,92.1h0M135.4,168.9h0M168.3,100.4h0M113.3,100.1h0M173.6,110.5h0M130.5,149.6h0M128.0,73.5h0M149.2,103.4h0M153.8,115.3h0M137.8,91.4h0M115.6,121.7h0M155.0,84.1h0M105.4,112.5h0M182.8,122.0h0M140.2,132.0h0M121.9,108.9h0M120.2,144.7h0M164.6,81.8h0M179.0,142.9h0M143.3,95.6h0M108.0,98.8h0M164.2,123.6h0M115.6,150.2h0M149.8,90.0h0M89.8,105.4h0M164.3,129.3h0M129.3,153.3h0M142.2,76.8h0M99.4,116.3h0M144.8,99.4h0M135.1,137.5h0M99.2,98.4h0M142.3,124.7h0M136.4,139.7h0M157.8,148.7h0M153.0,106.7h0" stroke="#6ba852" stroke-width="2.8" stroke-linecap="round" fill="none" opacity="1"/>
<path d="M120.2,63.9h0M136.5,57.7h0M148.8,63.2h0M199.3,106.6h0M110.3,61.8h0M133.3,179.4h0M95.8,150.5h0M202.3,154.8h0M137.3,185.2h0M78.1,131.1h0M192.0,163.5h0M103.5,89.3h0M140.5,48.3h0M170.7,100.4h0M86.4,112.4h0M164.4,180.4h0M204.4,125.7h0M176.6,85.4h0M183.9,172.2h0M200.8,129.8h0M122.8,63.9h0M150.0,173.3h0M122.1,49.7h0M130.8,183.1h0M204.4,126.3h0M107.7,160.7h0M198.3,162.5h0M167.5,67.9h0M82.9,106.6h0M100.6,91.4h0M125.8,57.6h0M105.6,91.1h0M129.6,42.4h0M88.3,132.1h0M99.5,150.3h0M134.2,50.6h0M203.7,150.2h0M133.8,45.5h0M103.5,94.6h0M191.0,163.7h0M81.2,113.8h0M202.2,142.3h0M189.9,171.5h0M107.6,73.8h0M161.6,64.7h0M114.8,61.6h0M199.9,161.0h0M201.2,130.1h0M199.8,118.8h0M107.9,62.3h0M102.6,80.3h0M122.3,53.0h0M204.4,126.1h0M78.0,106.0h0M118.3,172.7h0M93.3,97.4h0M120.9,57.4h0M78.6,117.2h0M81.5,116.8h0M133.1,49.7h0M89.3,136.0h0M202.8,126.6h0M157.0,185.3h0M192.6,101.1h0M80.0,116.5h0M148.8,67.4h0M156.3,69.5h0M118.7,59.8h0M186.6,171.5h0M155.7,176.4h0M176.6,176.1h0M100.5,87.0h0M204.2,110.1h0M103.3,93.3h0M113.8,70.9h0M123.9,175.0h0M110.5,64.7h0M80.9,98.9h0M151.1,65.9h0M139.9,55.8h0M115.3,66.1h0M174.5,171.0h0M171.0,181.0h0M101.2,67.4h0M169.9,75.0h0M90.3,143.3h0M169.2,175.0h0M122.2,56.7h0M169.2,98.1h0M79.6,123.5h0M165.0,70.7h0M121.9,172.5h0M160.3,72.1h0M212.5,131.7h0M152.6,58.7h0M198.6,154.3h0M193.5,107.6h0M76.6,105.0h0M199.1,158.4h0M79.1,107.9h0M206.8,109.4h0M188.2,161.4h0M130.1,49.0h0M126.3,176.8h0M87.5,124.3h0M167.8,175.3h0M163.6,179.2h0M80.4,125.6h0M143.7,56.1h0M176.1,83.9h0M89.6,139.6h0M99.7,66.8h0M177.1,168.3h0M211.4,127.5h0M173.0,81.4h0M157.8,179.7h0M205.3,163.5h0M193.2,163.8h0M129.8,187.6h0M192.6,105.9h0M90.8,141.5h0M173.0,79.8h0M207.8,152.8h0M101.7,84.2h0M120.8,57.3h0M142.1,187.6h0M208.7,126.0h0M183.5,164.8h0M120.3,180.4h0M148.3,68.5h0M207.4,131.6h0M165.6,182.6h0M83.7,95.0h0M81.1,104.2h0M208.1,127.6h0M198.5,163.2h0M100.2,68.7h0M132.3,49.4h0M179.9,169.2h0M205.1,150.5h0M202.9,108.9h0M167.8,176.5h0M204.9,136.6h0M101.3,146.3h0M186.2,164.6h0M213.0,131.6h0M206.9,121.6h0M108.8,162.5h0M201.9,134.2h0M123.9,177.5h0M168.0,180.2h0M110.3,72.5h0M78.0,129.3h0M127.3,47.8h0M126.2,48.1h0M150.8,181.8h0" stroke="#4e8b3e" stroke-width="2.6" stroke-linecap="round" fill="none" opacity="0.95"/>
<path d="M105.4,84.5h0M184.1,173.2h0M163.8,63.6h0M127.1,185.5h0M202.8,164.2h0M76.9,124.4h0M107.8,156.4h0M105.9,85.0h0M183.6,163.4h0M82.0,125.3h0M102.7,154.1h0M106.7,75.4h0M86.7,130.2h0M134.2,181.6h0M114.2,70.8h0M81.2,111.9h0M192.6,170.3h0M162.6,186.2h0M199.3,142.5h0M104.6,90.4h0M142.4,49.3h0M106.0,153.5h0M84.0,97.5h0M107.6,66.4h0M104.6,90.6h0M156.9,70.0h0M106.5,69.0h0M173.6,168.0h0M163.1,180.1h0M83.7,98.9h0M120.2,178.5h0M104.2,93.6h0M157.0,70.2h0M207.6,118.4h0M91.4,144.6h0M167.6,182.7h0M203.8,137.8h0M206.4,130.4h0M203.4,160.6h0M148.1,60.8h0M168.0,70.1h0M121.7,53.0h0M125.8,174.3h0M76.1,113.3h0M89.0,135.8h0M157.2,64.9h0M195.3,164.8h0M89.5,97.0h0M138.0,49.8h0M192.7,161.9h0M144.4,58.1h0M206.5,157.8h0M139.8,47.5h0M101.0,68.9h0M197.7,106.8h0M99.2,87.4h0M80.9,105.8h0M204.5,139.2h0M180.4,163.8h0M204.6,113.3h0M153.7,176.7h0M200.1,104.3h0M91.1,137.2h0M110.1,70.6h0M112.8,66.6h0M203.8,160.7h0M169.8,96.9h0M85.1,131.1h0M212.6,125.4h0M88.1,124.8h0M169.4,83.5h0M132.1,184.2h0M176.4,82.4h0M146.0,187.2h0M166.9,66.9h0M83.2,137.0h0M112.4,175.4h0M202.0,115.0h0M203.0,139.7h0M197.2,156.4h0M99.9,76.0h0M175.2,82.4h0M167.7,65.6h0M156.4,61.9h0M152.5,65.2h0M136.6,182.9h0M178.8,172.3h0M200.6,148.3h0M158.6,182.6h0M86.0,129.5h0M195.2,108.6h0M144.8,59.7h0M106.1,80.1h0M83.5,105.5h0M149.8,183.6h0M151.7,58.6h0M200.0,134.3h0M203.5,159.2h0M135.2,54.6h0M205.7,157.4h0M199.5,146.4h0M129.9,188.0h0M198.1,109.1h0M133.8,50.4h0M146.0,54.1h0M79.3,112.2h0M131.2,188.0h0M175.5,166.4h0M113.6,174.9h0M126.6,56.3h0M93.6,92.6h0M90.7,101.1h0M151.3,62.3h0M86.6,100.4h0M125.7,171.1h0M202.3,105.1h0M92.7,141.2h0M204.1,119.4h0M120.0,68.4h0M122.1,58.8h0M99.4,151.7h0M116.2,68.1h0M135.3,56.5h0M111.5,172.3h0M102.6,74.2h0M193.3,108.1h0M108.7,170.2h0M185.2,173.8h0M171.5,182.8h0M108.8,65.5h0M130.6,49.6h0M119.4,70.5h0M121.0,68.6h0M141.8,187.4h0M142.6,179.8h0" stroke="#3b7430" stroke-width="2.4" stroke-linecap="round" fill="none" opacity="0.9"/>
<path d="M138.3,86.4h0M123.9,116.1h0M113.8,103.8h0M123.5,96.1h0M143.8,151.5h0M99.0,112.6h0M152.4,107.6h0M131.7,122.1h0M118.5,87.1h0M101.4,112.8h0M92.5,117.1h0M113.8,88.9h0M162.2,133.2h0M125.8,70.9h0M125.1,63.6h0M138.3,119.9h0M147.0,128.4h0M117.1,86.0h0M148.6,74.1h0M169.9,113.8h0M150.4,171.4h0M122.7,79.1h0M179.5,146.1h0M92.2,113.8h0M163.2,160.1h0M137.0,94.0h0M135.1,111.2h0M115.4,118.4h0M145.5,69.5h0M98.7,120.0h0M144.9,85.9h0M173.4,111.0h0M144.6,119.7h0M103.7,142.8h0M143.3,106.7h0M124.6,90.5h0M121.8,114.1h0M131.6,143.7h0M161.5,164.0h0M149.0,82.4h0M163.9,93.1h0M163.5,123.5h0M108.3,116.8h0M99.3,119.2h0M148.4,115.6h0M164.9,160.7h0M117.3,80.5h0M107.6,131.0h0M144.5,158.8h0M150.2,77.6h0M116.3,87.2h0M99.1,130.1h0M132.0,65.2h0M123.8,69.1h0M184.8,143.7h0M141.8,61.3h0M131.3,83.8h0M138.7,129.5h0M171.7,112.3h0M105.6,142.6h0M118.1,85.7h0M186.1,121.4h0M118.8,135.8h0M142.0,67.3h0M139.4,151.6h0M110.9,109.7h0M164.9,103.3h0M171.9,143.3h0M120.9,116.9h0M129.9,71.6h0M166.7,98.6h0M197.1,123.0h0M89.7,129.8h0M125.6,96.0h0M104.6,104.0h0M140.6,88.3h0M133.2,168.7h0M124.5,125.5h0M129.7,69.1h0M174.8,111.7h0M139.5,131.6h0M163.7,132.2h0M130.3,74.9h0M135.6,83.0h0M143.4,78.9h0M156.7,121.3h0M126.5,68.2h0M135.8,75.5h0M136.4,156.3h0M131.6,117.5h0M111.1,134.2h0M121.3,123.1h0M115.4,141.7h0M143.1,167.5h0M136.2,119.9h0M133.5,85.2h0M144.6,129.4h0M130.2,108.9h0M164.2,92.8h0M192.2,125.5h0M128.4,128.0h0M106.1,107.4h0M125.2,90.0h0M178.2,115.5h0M114.2,94.2h0M127.5,117.3h0M134.8,162.1h0M140.2,172.8h0M143.7,137.1h0M98.1,106.5h0M155.6,82.9h0M125.3,151.9h0M147.5,115.9h0M149.0,141.5h0M181.9,149.7h0M136.9,104.4h0M164.2,98.7h0M120.0,89.3h0M118.4,150.6h0M117.3,90.7h0M133.1,64.0h0M106.0,100.8h0M126.5,117.3h0M146.5,109.8h0M116.4,108.9h0M152.8,150.9h0M140.6,91.6h0M145.5,106.3h0M137.8,84.6h0M88.8,124.7h0M106.1,139.3h0M100.0,119.5h0M148.7,93.3h0M170.9,117.3h0M169.3,129.4h0M110.2,101.3h0M139.2,60.9h0M121.0,166.5h0M135.6,129.6h0M175.6,111.9h0M124.2,140.9h0M133.0,93.0h0M132.7,99.9h0M109.9,76.4h0M142.7,123.0h0M134.6,59.3h0M161.3,174.0h0M164.1,86.5h0M155.2,134.5h0M119.1,83.9h0M120.9,124.0h0M106.8,136.1h0M101.1,121.2h0M165.8,121.4h0M125.9,75.1h0M127.8,66.0h0M147.4,106.2h0M151.3,123.2h0M134.9,96.2h0M89.2,113.1h0M138.3,67.0h0M120.0,153.1h0M169.2,102.0h0M117.9,136.8h0M168.6,86.8h0M124.5,91.8h0M148.1,80.7h0M147.9,108.3h0M128.7,59.9h0M104.8,137.0h0M126.3,110.1h0M133.2,83.2h0M135.8,59.6h0M129.6,122.9h0M124.5,118.6h0M146.8,92.1h0M180.6,116.6h0M126.3,131.3h0M113.6,99.7h0M118.7,84.2h0M95.5,122.0h0M144.9,127.0h0M163.0,125.0h0M180.2,149.9h0M143.1,85.7h0M137.6,130.3h0M128.1,105.3h0M139.3,60.2h0M189.0,132.5h0M103.4,100.4h0M156.6,150.6h0M125.8,80.6h0M132.4,95.2h0M178.1,148.5h0M168.5,131.7h0M96.1,128.3h0M138.8,103.0h0M141.0,76.1h0M163.3,159.8h0M179.7,111.0h0M119.2,89.4h0M164.5,103.0h0M114.7,71.4h0M122.0,119.3h0M145.9,77.1h0M186.8,122.9h0M150.9,110.0h0M150.7,122.4h0M140.2,101.6h0M167.7,125.0h0M117.9,131.8h0M109.4,110.2h0M160.9,129.0h0M161.7,167.6h0M116.6,161.9h0M149.9,73.7h0M150.1,84.4h0M107.1,131.0h0" stroke="#7bb65f" stroke-width="2.3" stroke-linecap="round" fill="none" opacity="0.95"/>
<path d="M125.1,174.7h0M197.1,158.4h0M199.9,144.2h0M81.9,131.8h0M89.6,131.1h0M129.2,177.7h0M143.7,185.6h0M137.0,182.7h0M103.2,65.1h0M88.5,104.5h0M150.9,65.4h0M80.4,136.8h0M168.6,100.5h0M147.3,185.8h0M93.5,137.9h0M127.0,43.3h0M170.0,100.4h0M198.6,159.3h0M138.5,182.3h0M105.8,149.9h0M149.7,65.1h0M197.3,161.5h0M202.0,150.8h0M154.6,59.3h0M184.5,162.3h0M197.5,160.5h0M81.6,121.5h0M101.0,87.8h0M169.0,73.1h0M132.1,186.4h0M87.9,141.3h0M203.6,162.6h0M193.0,169.2h0M207.3,112.1h0M79.7,130.3h0M106.0,153.6h0M126.2,183.4h0M78.1,117.0h0M146.4,182.0h0M101.9,88.8h0M207.2,124.1h0M115.6,168.0h0M126.3,186.1h0M145.3,180.6h0M204.8,129.8h0M142.6,60.3h0M131.1,47.4h0M204.6,163.6h0M84.0,138.3h0M80.7,108.9h0M175.8,83.0h0M108.5,153.3h0M154.2,180.1h0M193.8,158.9h0M203.7,165.9h0M95.5,148.3h0M89.7,93.8h0M132.2,52.7h0M149.7,68.7h0M196.6,140.2h0M202.6,144.4h0M127.0,54.1h0M145.8,64.9h0M108.2,75.1h0M80.4,111.5h0M184.6,169.2h0M78.3,122.2h0M129.7,182.9h0M165.8,70.2h0M203.4,152.2h0M99.8,153.3h0M200.7,148.5h0M172.6,92.4h0M84.5,113.8h0M131.7,47.6h0M101.9,80.9h0M195.8,162.7h0M166.1,174.4h0M208.7,120.6h0M77.5,106.9h0M81.0,108.8h0M210.5,134.2h0M81.0,128.7h0M121.5,65.8h0M187.6,104.0h0M175.7,98.2h0M112.0,159.2h0M113.3,157.7h0M82.0,103.1h0M182.6,166.1h0M89.5,102.2h0M117.5,60.6h0M105.3,65.8h0M112.5,176.2h0M201.3,121.3h0M116.5,65.7h0M208.9,123.3h0M150.8,174.5h0M151.1,67.8h0M103.0,70.9h0M124.5,51.9h0M91.8,95.8h0M164.1,176.2h0M174.6,101.4h0M148.1,61.3h0M103.1,145.9h0M150.8,174.4h0M189.0,163.3h0M82.5,101.9h0M189.2,165.4h0M154.8,179.4h0M202.9,114.5h0M203.1,136.0h0M196.5,110.7h0M119.7,173.2h0M209.5,128.3h0M173.6,167.1h0M159.4,183.0h0M79.5,127.8h0M126.4,46.1h0M123.6,180.3h0M200.8,116.0h0M147.8,181.6h0M87.6,128.0h0M203.5,145.7h0M88.5,101.8h0M123.1,180.1h0M120.9,62.9h0M122.8,64.1h0M77.1,118.1h0M108.5,157.9h0M133.4,188.3h0M213.2,120.3h0M179.5,170.5h0M107.9,158.9h0M198.2,164.2h0M98.5,88.7h0M151.9,58.8h0M145.2,185.9h0M135.1,185.4h0M97.2,93.4h0M104.6,88.8h0M104.0,156.0h0M144.3,183.2h0M194.3,161.6h0M136.0,182.9h0M102.2,97.0h0M200.6,142.8h0M150.8,180.9h0M195.4,107.0h0M144.8,52.5h0M204.7,163.9h0M158.0,183.0h0M123.9,60.4h0M103.0,156.0h0M142.3,177.7h0M114.3,66.2h0M194.5,161.9h0" stroke="#5a9a48" stroke-width="2.2" stroke-linecap="round" fill="none" opacity="0.9"/>
<path d="M164.3,97.3h0M142.3,101.6h0M197.3,133.8h0M122.8,81.1h0M111.2,104.4h0M130.6,114.7h0M162.2,118.5h0M111.3,133.0h0M148.6,77.1h0M128.3,112.8h0M130.0,65.1h0M133.1,97.9h0M129.5,172.5h0M146.4,69.7h0M151.7,149.8h0M165.1,84.3h0M92.7,112.4h0M137.8,62.2h0M111.0,127.1h0M109.6,101.5h0M152.2,90.3h0M116.0,126.7h0M137.6,97.6h0M139.4,65.6h0M92.8,106.1h0M160.3,79.2h0M147.1,87.9h0M182.2,115.1h0M190.6,134.3h0M133.0,60.2h0M103.3,115.4h0M115.9,125.3h0M144.6,142.2h0M176.8,112.0h0M141.6,158.6h0M147.8,80.3h0M123.1,119.5h0M143.0,168.8h0M94.4,108.6h0M133.4,78.3h0M147.9,75.9h0M124.8,78.0h0M177.2,108.5h0M120.4,81.8h0M159.3,94.4h0M137.8,99.3h0M121.9,139.5h0M195.0,143.1h0M156.8,146.2h0M101.4,123.1h0M100.8,137.5h0M192.1,139.2h0M145.3,117.7h0M124.5,145.9h0M162.9,101.6h0M153.8,103.0h0M105.2,127.1h0M121.3,114.4h0M121.1,103.1h0M89.9,126.2h0M121.7,119.4h0M118.7,79.6h0M109.3,126.9h0M129.4,91.3h0M174.2,144.8h0M116.5,98.9h0M129.8,162.8h0M142.6,85.5h0M155.7,148.8h0M147.1,107.3h0M122.1,89.2h0M113.8,164.2h0M106.9,100.3h0M104.8,99.3h0M109.8,103.4h0M109.6,79.9h0M105.5,99.1h0M125.4,112.0h0M148.3,77.3h0M125.2,114.2h0M154.7,74.7h0M88.1,106.9h0M126.8,148.1h0M146.2,174.7h0M94.6,132.5h0M139.0,124.5h0M152.0,155.8h0M96.3,107.3h0M136.0,59.5h0M167.8,133.9h0M144.7,83.8h0M119.3,110.3h0M156.8,152.8h0M141.1,62.4h0M126.2,148.7h0M128.1,142.5h0M134.2,64.1h0M106.8,91.2h0M124.9,91.7h0M125.3,80.1h0M161.5,75.8h0M126.4,118.1h0M165.5,163.4h0M139.6,93.3h0M121.5,147.8h0M185.9,136.5h0M142.2,103.3h0M91.0,131.6h0M163.7,128.7h0M182.9,111.6h0M137.1,69.4h0M113.0,73.1h0M109.9,128.4h0M123.9,116.4h0M147.3,113.0h0M132.3,135.2h0M114.1,93.4h0M147.1,85.7h0M108.5,96.9h0M184.4,143.9h0M111.0,91.1h0M149.4,82.6h0M139.8,124.1h0M109.8,89.5h0M118.6,81.4h0M122.5,93.8h0M133.3,57.9h0M122.4,110.2h0M111.1,98.8h0M116.7,115.0h0M94.2,117.5h0M181.6,112.5h0M108.4,90.8h0M127.8,75.8h0M105.9,126.2h0M181.6,113.4h0M104.0,129.3h0M104.9,122.1h0M112.5,88.4h0M90.6,125.8h0M96.1,113.2h0M119.0,123.0h0M164.0,122.6h0M141.5,61.0h0M166.3,123.9h0M107.0,89.5h0M101.8,113.2h0M117.3,111.5h0M146.5,77.0h0M107.0,91.8h0M96.5,110.6h0M118.3,79.0h0M131.2,148.8h0M143.0,69.4h0M137.6,65.1h0M134.5,63.8h0M141.1,165.6h0M180.2,117.5h0M139.0,129.8h0M131.5,75.0h0M145.3,120.1h0M175.2,113.5h0M179.0,106.9h0M149.6,91.0h0M148.3,150.3h0M136.4,71.3h0M111.4,101.7h0M107.1,86.5h0M126.2,85.7h0M123.2,78.2h0M165.6,103.9h0M127.9,68.2h0M165.2,130.2h0M143.5,112.1h0M140.6,134.6h0M150.4,73.7h0M126.9,104.0h0M133.0,127.6h0M138.1,135.3h0M142.0,96.0h0M106.2,104.8h0M127.4,68.9h0M137.4,127.3h0M122.8,77.8h0M118.7,75.4h0M117.2,82.3h0M127.9,125.8h0M136.1,106.2h0M92.1,127.4h0M130.5,142.2h0M132.9,62.5h0M110.1,114.1h0M115.8,122.7h0M130.1,74.3h0M117.9,91.8h0M155.6,74.0h0M159.2,116.1h0M118.1,103.2h0M94.5,113.7h0M133.0,62.2h0M133.2,98.3h0M120.9,142.2h0M176.2,149.6h0M145.2,110.2h0M140.5,68.5h0M135.2,66.2h0M91.5,107.8h0M169.9,107.3h0M108.4,81.3h0M133.5,66.6h0M136.5,69.1h0M143.3,127.1h0M105.9,147.1h0M116.1,87.7h0M170.4,108.8h0M158.0,119.9h0M165.1,128.2h0M122.5,70.9h0M149.3,148.3h0M98.2,116.0h0M163.8,123.1h0M101.7,125.9h0M157.2,114.6h0M101.4,126.7h0M95.1,118.6h0M119.5,89.7h0M122.8,115.1h0M127.5,78.6h0M120.1,148.8h0M127.8,82.6h0M156.5,79.5h0M92.4,135.6h0M148.4,143.9h0M158.3,98.5h0M138.5,62.2h0M116.9,87.0h0M117.1,73.8h0M128.3,106.4h0M110.5,134.0h0M172.1,108.3h0M115.7,89.1h0M111.1,98.4h0M127.2,113.4h0M143.8,95.1h0M94.5,110.3h0M115.5,122.6h0M143.5,68.9h0M158.0,80.5h0M152.7,75.8h0M135.6,99.5h0M158.1,74.3h0M151.4,147.0h0M110.0,87.9h0M102.2,98.5h0M132.7,129.0h0M138.2,105.9h0M149.5,78.9h0M123.7,105.5h0M147.5,146.8h0M113.1,94.3h0M180.7,106.4h0M107.0,92.0h0M132.5,71.2h0M122.7,81.5h0M132.3,71.3h0M119.7,89.3h0M163.0,124.8h0M160.8,74.3h0M139.4,66.5h0M157.9,83.9h0M135.7,60.4h0M115.2,88.2h0M146.6,147.3h0M121.8,128.4h0M104.9,102.5h0M147.2,114.0h0M94.2,111.6h0M93.8,114.7h0M122.9,76.3h0M137.1,87.6h0M100.0,105.4h0M178.1,116.1h0M136.6,167.4h0M194.9,129.8h0M97.9,104.7h0M179.2,106.7h0M116.7,114.8h0M102.0,136.5h0M100.5,130.3h0M160.5,90.2h0M135.6,64.5h0M168.7,125.6h0M100.7,119.6h0M143.2,69.2h0M112.0,99.0h0M126.9,64.7h0M113.4,104.2h0M149.4,121.6h0M113.5,101.0h0M98.5,139.6h0M101.9,115.8h0M111.8,72.8h0M114.9,87.5h0M164.5,117.6h0M148.3,164.3h0M155.8,74.1h0M157.4,123.1h0M119.6,81.0h0M111.0,75.3h0M92.1,118.4h0M157.3,100.5h0M112.3,109.4h0M149.1,111.1h0M150.1,83.6h0M107.6,102.2h0M151.6,114.7h0M107.9,90.4h0M131.0,65.0h0M162.6,100.0h0M99.8,114.2h0M105.6,133.2h0M170.6,90.6h0" stroke="#8dc570" stroke-width="1.9" stroke-linecap="round" fill="none" opacity="0.9"/>
<path d="M148.4,173.3h0M134.0,178.8h0M193.7,158.6h0M166.6,67.6h0M172.2,168.8h0M179.2,104.8h0M128.8,53.9h0M78.8,133.2h0M190.0,159.9h0M82.9,100.8h0M204.0,115.6h0M152.3,62.9h0M130.2,183.3h0M175.0,168.4h0M169.7,182.2h0M98.7,89.1h0M146.6,57.8h0M80.8,103.2h0M118.9,176.9h0M106.5,60.1h0M120.6,68.9h0M107.1,61.7h0M194.7,158.8h0M107.2,71.8h0M122.4,179.8h0M195.8,105.7h0M107.4,71.3h0M131.8,48.6h0M196.2,162.2h0M79.4,131.5h0M80.6,134.5h0M164.0,71.1h0M167.7,177.7h0M161.8,181.3h0M106.1,67.2h0M110.6,61.3h0M87.6,135.4h0M180.0,167.8h0M119.3,174.2h0M164.3,175.1h0M196.8,107.8h0M200.2,145.8h0M124.4,173.2h0M107.6,159.6h0M90.8,140.3h0M103.7,79.7h0M146.1,55.3h0M112.3,160.0h0M148.3,62.7h0M95.2,143.3h0M159.5,68.8h0M198.1,167.4h0M87.8,137.3h0M128.1,179.9h0M120.3,171.2h0M107.0,158.8h0M204.2,107.3h0M153.6,180.2h0M161.4,177.2h0M165.1,67.7h0M122.6,48.0h0M113.2,174.8h0M195.2,110.8h0M144.2,183.2h0M136.4,187.7h0M94.6,149.6h0M120.7,54.0h0M110.0,161.4h0M164.3,68.4h0M150.3,177.4h0M145.1,185.7h0M120.7,52.7h0M95.1,144.1h0M204.9,156.1h0M94.9,141.6h0M124.9,53.8h0M105.7,70.7h0M84.3,96.8h0M130.1,183.9h0M105.0,80.5h0M186.7,161.6h0M154.9,61.1h0M168.2,79.6h0M78.3,111.8h0M194.7,101.7h0M194.6,101.6h0M145.5,182.6h0M130.6,188.9h0M199.8,150.4h0M209.0,141.7h0M86.5,97.3h0M208.3,124.1h0M149.2,68.3h0M150.6,62.3h0M93.1,139.4h0M126.0,58.8h0M169.5,85.2h0M124.5,178.0h0M185.6,167.4h0M152.5,69.6h0M87.3,104.5h0M111.3,157.2h0M205.8,130.3h0M167.6,75.0h0M205.4,117.6h0M206.9,110.1h0M165.7,178.2h0M146.0,184.1h0M163.0,181.1h0M79.8,119.3h0M125.2,57.5h0M116.8,178.7h0M80.4,131.7h0M108.5,71.7h0M129.7,182.5h0M75.6,105.5h0M169.4,74.5h0M123.3,63.1h0M85.9,102.1h0M172.3,95.7h0M137.5,181.5h0M108.9,63.2h0M206.1,151.8h0M86.4,106.0h0M196.0,155.8h0M107.8,161.5h0M104.6,62.5h0M102.1,73.5h0M198.4,140.5h0M117.8,177.1h0M200.6,129.6h0M180.0,177.0h0M127.7,180.6h0M207.2,124.5h0M110.0,167.4h0M199.5,157.8h0M195.7,156.5h0M141.2,54.1h0M126.1,47.8h0M167.5,174.8h0M198.0,138.6h0M177.6,175.2h0M116.9,68.0h0M200.1,142.7h0M112.3,70.5h0M138.3,180.1h0M105.5,156.9h0M80.0,131.6h0M122.1,174.9h0M110.3,161.8h0M144.9,61.3h0" stroke="#6aa856" stroke-width="1.9" stroke-linecap="round" fill="none" opacity="0.85"/>
<path d="M154.0,184.2h0M151.8,174.5h0M114.3,63.1h0M133.7,179.7h0M202.6,108.0h0M86.1,104.5h0M109.2,64.2h0M89.0,100.8h0M103.7,80.8h0M108.8,169.9h0M176.0,174.0h0M203.0,136.0h0M199.6,133.0h0M115.2,62.3h0M134.5,184.1h0M87.1,123.6h0M159.1,63.0h0M213.5,121.8h0M202.8,104.1h0M197.2,142.2h0M156.7,62.1h0M87.0,133.7h0M166.2,182.0h0M102.9,72.7h0M206.9,114.9h0M179.2,166.8h0M104.8,94.5h0M124.2,56.3h0M122.3,51.0h0M128.7,176.5h0M207.4,140.2h0M150.2,182.8h0M104.1,80.3h0M78.3,112.1h0M200.5,131.0h0M203.0,115.3h0M135.0,55.0h0M201.6,159.4h0M93.5,97.9h0M200.7,112.0h0M166.3,65.4h0M136.7,185.2h0M125.3,45.9h0M117.0,71.4h0M105.7,82.0h0M209.9,126.2h0M175.6,97.6h0M105.7,72.6h0M168.5,72.2h0M86.8,93.8h0M104.2,63.2h0M87.5,133.5h0M171.9,102.1h0M194.1,170.7h0M89.4,97.5h0M151.1,60.4h0M103.7,150.2h0M106.7,86.6h0M128.8,187.0h0M164.0,178.9h0M138.0,56.9h0M103.2,83.5h0M120.4,53.1h0M105.2,62.0h0M103.6,64.2h0M137.0,57.9h0M172.7,172.7h0M198.9,158.8h0M199.5,141.3h0M172.4,95.0h0M143.1,48.9h0M200.8,134.7h0M145.6,58.5h0M141.1,183.2h0M169.0,172.7h0M148.2,183.3h0M138.6,184.8h0M202.4,143.3h0M152.9,66.0h0M129.2,184.2h0M200.0,117.9h0M106.5,149.8h0M176.8,103.9h0M198.6,103.5h0M208.2,134.8h0M137.9,179.2h0M212.3,123.8h0M121.0,56.6h0M200.1,137.3h0M170.3,79.1h0M81.7,113.5h0M197.1,144.9h0M159.0,178.4h0M189.4,162.4h0M146.4,62.0h0M160.1,63.1h0M112.7,70.4h0M89.9,138.6h0M153.7,183.8h0M176.0,173.3h0M126.0,52.6h0M84.2,131.2h0M171.9,71.7h0M198.5,156.1h0M140.0,54.9h0M197.8,137.8h0M103.6,69.8h0M171.2,180.7h0M95.3,146.9h0M210.3,131.4h0M78.8,116.3h0M125.7,172.6h0M140.1,59.9h0M198.1,102.7h0M204.9,162.6h0M88.2,96.0h0M129.7,183.5h0M102.7,96.3h0M111.5,65.9h0M162.9,65.3h0M86.2,116.3h0M194.1,165.6h0M99.2,146.5h0M200.9,159.7h0M84.4,133.7h0M174.4,76.7h0M194.2,106.9h0M198.7,113.2h0M210.6,117.4h0M76.4,118.3h0M99.2,145.7h0M149.7,180.6h0M176.0,170.3h0M127.4,55.0h0M171.0,169.7h0M143.7,52.1h0M165.9,77.3h0M146.3,183.9h0M166.3,172.4h0M104.1,70.2h0M209.3,115.4h0M124.3,61.5h0M204.9,144.5h0M129.5,186.1h0M187.5,164.1h0M203.5,146.4h0M160.9,63.8h0M79.5,100.3h0M81.3,123.0h0" stroke="#8cc078" stroke-width="1.6" stroke-linecap="round" fill="none" opacity="0.7"/>
</g>
<g id="bigcircle" clip-path="url(#bigc)"><g filter="url(#soft)">
<polygon points="405.0,60.0 675.0,60.0 675.0,83.2 405.0,171.7" fill="#dfcd76" filter="url(#fSand2)"/>
<polygon points="405.0,171.7 675.0,83.2 675.0,120.3 405.0,212.4" fill="#242424" />
<polygon points="405.0,212.4 675.0,120.3 675.0,148.7 405.0,244.8" fill="#f2f2f2" />
<polygon points="405.0,244.8 675.0,148.7 675.0,179.2 405.0,277.0" fill="url(#checker)" />
<polygon points="405.0,277.0 675.0,179.2 675.0,194.7 405.0,293.3" fill="#626262" />
<polygon points="405.0,293.3 675.0,194.7 675.0,350.0 405.0,350.0" fill="#c6c9c7" filter="url(#fSub)"/>
<g transform="translate(407.8,283.8) rotate(-20) skewX(-10)"><rect x="-5.2" y="-5.4" width="10" height="10.6" rx="3.2" fill="#8c8c8c"/><rect x="-3.9" y="-4.8" width="8.4" height="9.6" rx="3" fill="url(#gHole)"/></g>
<g transform="translate(420.9,279.1) rotate(-20) skewX(-10)"><rect x="-5.2" y="-5.4" width="10" height="10.6" rx="3.2" fill="#8c8c8c"/><rect x="-3.9" y="-4.8" width="8.4" height="9.6" rx="3" fill="url(#gHole)"/></g>
<g transform="translate(434.0,274.3) rotate(-20) skewX(-10)"><rect x="-5.2" y="-5.4" width="10" height="10.6" rx="3.2" fill="#8c8c8c"/><rect x="-3.9" y="-4.8" width="8.4" height="9.6" rx="3" fill="url(#gHole)"/></g>
<g transform="translate(447.1,269.5) rotate(-20) skewX(-10)"><rect x="-5.2" y="-5.4" width="10" height="10.6" rx="3.2" fill="#8c8c8c"/><rect x="-3.9" y="-4.8" width="8.4" height="9.6" rx="3" fill="url(#gHole)"/></g>
<g transform="translate(460.2,264.8) rotate(-20) skewX(-10)"><rect x="-5.2" y="-5.4" width="10" height="10.6" rx="3.2" fill="#8c8c8c"/><rect x="-3.9" y="-4.8" width="8.4" height="9.6" rx="3" fill="url(#gHole)"/></g>
<g transform="translate(473.3,260.0) rotate(-20) skewX(-10)"><rect x="-5.2" y="-5.4" width="10" height="10.6" rx="3.2" fill="#8c8c8c"/><rect x="-3.9" y="-4.8" width="8.4" height="9.6" rx="3" fill="url(#gHole)"/></g>
<g transform="translate(486.4,255.2) rotate(-20) skewX(-10)"><rect x="-5.2" y="-5.4" width="10" height="10.6" rx="3.2" fill="#8c8c8c"/><rect x="-3.9" y="-4.8" width="8.4" height="9.6" rx="3" fill="url(#gHole)"/></g>
<g transform="translate(499.5,250.5) rotate(-20) skewX(-10)"><rect x="-5.2" y="-5.4" width="10" height="10.6" rx="3.2" fill="#8c8c8c"/><rect x="-3.9" y="-4.8" width="8.4" height="9.6" rx="3" fill="url(#gHole)"/></g>
<g transform="translate(512.6,245.7) rotate(-20) skewX(-10)"><rect x="-5.2" y="-5.4" width="10" height="10.6" rx="3.2" fill="#8c8c8c"/><rect x="-3.9" y="-4.8" width="8.4" height="9.6" rx="3" fill="url(#gHole)"/></g>
<g transform="translate(525.7,240.9) rotate(-20) skewX(-10)"><rect x="-5.2" y="-5.4" width="10" height="10.6" rx="3.2" fill="#8c8c8c"/><rect x="-3.9" y="-4.8" width="8.4" height="9.6" rx="3" fill="url(#gHole)"/></g>
<g transform="translate(538.8,236.2) rotate(-20) skewX(-10)"><rect x="-5.2" y="-5.4" width="10" height="10.6" rx="3.2" fill="#8c8c8c"/><rect x="-3.9" y="-4.8" width="8.4" height="9.6" rx="3" fill="url(#gHole)"/></g>
<g transform="translate(551.9,231.4) rotate(-20) skewX(-10)"><rect x="-5.2" y="-5.4" width="10" height="10.6" rx="3.2" fill="#8c8c8c"/><rect x="-3.9" y="-4.8" width="8.4" height="9.6" rx="3" fill="url(#gHole)"/></g>
<g transform="translate(565.0,226.6) rotate(-20) skewX(-10)"><rect x="-5.2" y="-5.4" width="10" height="10.6" rx="3.2" fill="#8c8c8c"/><rect x="-3.9" y="-4.8" width="8.4" height="9.6" rx="3" fill="url(#gHole)"/></g>
<g transform="translate(578.1,221.9) rotate(-20) skewX(-10)"><rect x="-5.2" y="-5.4" width="10" height="10.6" rx="3.2" fill="#8c8c8c"/><rect x="-3.9" y="-4.8" width="8.4" height="9.6" rx="3" fill="url(#gHole)"/></g>
<g transform="translate(591.2,217.1) rotate(-20) skewX(-10)"><rect x="-5.2" y="-5.4" width="10" height="10.6" rx="3.2" fill="#8c8c8c"/><rect x="-3.9" y="-4.8" width="8.4" height="9.6" rx="3" fill="url(#gHole)"/></g>
<g transform="translate(604.3,212.3) rotate(-20) skewX(-10)"><rect x="-5.2" y="-5.4" width="10" height="10.6" rx="3.2" fill="#8c8c8c"/><rect x="-3.9" y="-4.8" width="8.4" height="9.6" rx="3" fill="url(#gHole)"/></g>
<g transform="translate(617.4,207.6) rotate(-20) skewX(-10)"><rect x="-5.2" y="-5.4" width="10" height="10.6" rx="3.2" fill="#8c8c8c"/><rect x="-3.9" y="-4.8" width="8.4" height="9.6" rx="3" fill="url(#gHole)"/></g>
<g transform="translate(630.5,202.8) rotate(-20) skewX(-10)"><rect x="-5.2" y="-5.4" width="10" height="10.6" rx="3.2" fill="#8c8c8c"/><rect x="-3.9" y="-4.8" width="8.4" height="9.6" rx="3" fill="url(#gHole)"/></g>
<g transform="translate(643.6,198.1) rotate(-20) skewX(-10)"><rect x="-5.2" y="-5.4" width="10" height="10.6" rx="3.2" fill="#8c8c8c"/><rect x="-3.9" y="-4.8" width="8.4" height="9.6" rx="3" fill="url(#gHole)"/></g>
<g transform="translate(656.7,193.3) rotate(-20) skewX(-10)"><rect x="-5.2" y="-5.4" width="10" height="10.6" rx="3.2" fill="#8c8c8c"/><rect x="-3.9" y="-4.8" width="8.4" height="9.6" rx="3" fill="url(#gHole)"/></g>
<g transform="translate(669.8,188.5) rotate(-20) skewX(-10)"><rect x="-5.2" y="-5.4" width="10" height="10.6" rx="3.2" fill="#8c8c8c"/><rect x="-3.9" y="-4.8" width="8.4" height="9.6" rx="3" fill="url(#gHole)"/></g>
<polygon points="405.0,292.1 675.0,193.5 675.0,195.3 405.0,293.9" fill="#2c2c2c" />
<ellipse cx="498" cy="329" rx="27" ry="19" fill="#c2c3c1" stroke="#8a8a88" stroke-width="1"/>
</g></g>
<circle cx="537.8" cy="210.4" r="123.4" fill="none" stroke="#2e2e2e" stroke-width="1.2" />
<g id="planter2" filter="url(#soft)">
<g filter="url(#fConcS)">
<polygon points="492.0,398.0 511.0,396.6 780.2,450.8 762.0,457.8 511.0,400.0" fill="#c6c7c5" />
<polygon points="492.0,398.0 511.0,400.0 511.0,440.0 495.0,436.0" fill="#bdbebc" />
<polygon points="511.0,400.0 762.0,457.8 746.0,575.5 714.5,563.2 606.0,520.0 511.0,440.0" fill="#adaeac" />
<polygon points="375.0,501.0 384.0,498.8 389.0,497.5 393.0,489.2 714.5,560.0 746.0,575.5 745.0,578.0 597.0,662.0" fill="#c3c4c2" />
</g>
<g filter="url(#fConc)">
<polygon points="375.0,501.0 597.0,662.0 598.5,690.0 430.0,560.0 378.0,515.0" fill="#a3a4a2" />
<polygon points="597.0,662.0 745.0,578.0 742.8,596.4 711.8,618.0 598.5,690.0" fill="#adaeac" />
<polygon points="711.8,618.0 741.2,598.5 728.0,626.0" fill="#8c8d8b" />
<polygon points="741.2,598.5 743.6,596.4 738.8,633.0 728.0,626.0" fill="#a6a7a5" />
<polygon points="762.0,457.8 780.2,450.8 755.0,622.5 738.8,633.0 743.6,596.4 746.0,575.5" fill="#b8b9b7" />
</g>
<g filter="url(#fGrass)">
<polygon points="496.0,436.0 655.0,466.0 666.0,477.5 606.0,484.0 605.0,474.0 480.0,433.0" fill="#4d8a2c" />
</g>
<g filter="url(#fSoil)">
<polygon points="606.0,484.0 666.0,477.5 662.5,531.0 606.0,538.0" fill="#764f2c" />
</g>
<polygon points="663.4,493.0 692.0,502.5 689.4,551.0 676.4,546.0 676.4,538.0 663.4,530.3" fill="url(#gLinerUp)" />
<polygon points="665.0,490.5 692.0,499.5 698.0,500.5 698.0,502.8 692.0,503.2 663.4,493.5" fill="#f4f4f4" />
<polygon points="692.0,502.5 698.0,502.0 699.8,554.5 689.4,551.0" fill="#f0f0f0" />
<polygon points="698.0,502.5 717.0,508.6 714.5,563.2 699.8,556.3" fill="url(#mesh2)" />
<polygon points="375.0,501.3 383.8,498.8 560.0,619.5 566.0,622.5 699.8,556.3 714.5,563.2 567.5,637.5 562.5,638.0 376.0,506.0" fill="url(#mesh2)" />
<polygon points="383.8,498.8 388.8,497.5 420.0,516.5 470.0,546.4 545.0,600.0 557.0,606.5 562.5,608.8 689.4,551.0 699.8,556.3 566.0,622.5 560.0,619.5" fill="#f5f5f5" />
<polygon points="388.8,497.5 391.5,495.2 420.0,513.0 470.0,544.7 535.0,588.0 550.0,595.5 562.5,595.0 676.4,545.9 689.4,551.0 562.5,608.8 557.0,606.5 545.0,600.0 470.0,546.4 420.0,516.5" fill="#1c1c1c" />
<g filter="url(#fSand)">
<path d="M392.7,489 L391.5,495.2 L420,513 L470,544.7 L535,588 Q550,598 562.5,595 L676.4,545.9 L676.4,538 L600,520 Z" fill="#dcc96f"/>
<path d="M392.7,489 L452,476 L606,535 L662.5,531 L663.4,530.3 L676.4,538 L557.5,586 Q546,589 535,581 L470,540.2 L420,508.5 Z" fill="#f2e48f"/>
</g>
<polygon points="403.8,486.0 522.0,556.2 522.0,566.0 403.8,492.5" fill="#86615e" />
<polygon points="522.0,556.2 582.5,537.0 584.0,542.5 522.0,566.0" fill="#97706c" />
<g clip-path="url(#pavc)">
<polygon points="403.8,486.0 452.0,476.5 584.0,533.0 582.5,537.0 522.0,556.2" fill="#a17b77" />
<polygon points="452.0,476.5 478.4,487.8 466.3,490.2 439.9,478.9" fill="#97736f" opacity="0.85"/>
<polygon points="453.1,484.5 479.5,495.8 467.5,498.2 441.1,486.9" fill="#a9847f" opacity="0.85"/>
<polygon points="427.9,481.2 454.3,492.6 442.2,494.9 415.8,483.6" fill="#a9847f" opacity="0.85"/>
<polygon points="429.0,489.3 455.4,500.6 443.3,502.9 416.9,491.6" fill="#97736f" opacity="0.85"/>
<polygon points="403.8,486.0 430.1,497.3 418.1,499.7 391.7,488.4" fill="#a5807c" opacity="0.85"/>
<polygon points="404.9,494.0 431.3,505.3 419.2,507.7 392.8,496.4" fill="#a9847f" opacity="0.85"/>
<polygon points="379.6,490.8 406.0,502.1 394.0,504.4 367.6,493.1" fill="#8f6c6a" opacity="0.85"/>
<polygon points="478.4,487.8 504.8,499.1 492.7,501.5 466.3,490.2" fill="#9c7874" opacity="0.85"/>
<polygon points="479.5,495.8 505.9,507.1 493.9,509.5 467.5,498.2" fill="#a9847f" opacity="0.85"/>
<polygon points="454.3,492.6 480.7,503.9 468.6,506.2 442.2,494.9" fill="#ae8a85" opacity="0.85"/>
<polygon points="455.4,500.6 481.8,511.9 469.8,514.2 443.4,502.9" fill="#a9847f" opacity="0.85"/>
<polygon points="430.1,497.3 456.5,508.6 444.5,511.0 418.1,499.7" fill="#ae8a85" opacity="0.85"/>
<polygon points="431.3,505.3 457.7,516.6 445.6,519.0 419.2,507.7" fill="#a07c78" opacity="0.85"/>
<polygon points="406.0,502.1 432.4,513.4 420.4,515.7 394.0,504.4" fill="#8f6c6a" opacity="0.85"/>
<polygon points="504.8,499.1 531.2,510.4 519.1,512.8 492.7,501.5" fill="#a5807c" opacity="0.85"/>
<polygon points="505.9,507.1 532.3,518.4 520.3,520.8 493.9,509.5" fill="#a9847f" opacity="0.85"/>
<polygon points="480.7,503.9 507.1,515.1 495.0,517.5 468.6,506.2" fill="#97736f" opacity="0.85"/>
<polygon points="481.8,511.9 508.2,523.2 496.1,525.5 469.8,514.2" fill="#97736f" opacity="0.85"/>
<polygon points="456.6,508.6 482.9,519.9 470.9,522.3 444.5,511.0" fill="#9c7874" opacity="0.85"/>
<polygon points="457.7,516.6 484.1,527.9 472.0,530.3 445.6,519.0" fill="#8f6c6a" opacity="0.85"/>
<polygon points="432.4,513.4 458.8,524.6 446.8,527.0 420.4,515.7" fill="#a9847f" opacity="0.85"/>
<polygon points="531.2,510.4 557.6,521.7 545.5,524.1 519.1,512.8" fill="#a07c78" opacity="0.85"/>
<polygon points="532.3,518.4 558.7,529.7 546.7,532.1 520.3,520.8" fill="#a9847f" opacity="0.85"/>
<polygon points="507.1,515.1 533.5,526.4 521.4,528.8 495.0,517.5" fill="#8f6c6a" opacity="0.85"/>
<polygon points="508.2,523.2 534.6,534.5 522.5,536.8 496.1,525.5" fill="#8f6c6a" opacity="0.85"/>
<polygon points="483.0,519.9 509.4,531.2 497.3,533.6 470.9,522.3" fill="#9c7874" opacity="0.85"/>
<polygon points="484.1,527.9 510.5,539.2 498.4,541.6 472.0,530.3" fill="#a07c78" opacity="0.85"/>
<polygon points="458.8,524.6 485.2,535.9 473.2,538.3 446.8,527.0" fill="#97736f" opacity="0.85"/>
<polygon points="557.6,521.7 584.0,533.0 571.9,535.4 545.5,524.1" fill="#97736f" opacity="0.85"/>
<polygon points="558.7,529.7 585.1,541.0 573.1,543.4 546.7,532.1" fill="#9c7874" opacity="0.85"/>
<polygon points="533.5,526.5 559.9,537.8 547.8,540.1 521.4,528.8" fill="#97736f" opacity="0.85"/>
<polygon points="534.6,534.5 561.0,545.8 548.9,548.1 522.5,536.9" fill="#a07c78" opacity="0.85"/>
<polygon points="509.4,531.2 535.8,542.5 523.7,544.9 497.3,533.6" fill="#a9847f" opacity="0.85"/>
<polygon points="510.5,539.2 536.9,550.5 524.8,552.9 498.4,541.6" fill="#8f6c6a" opacity="0.85"/>
<polygon points="485.2,536.0 511.6,547.2 499.6,549.6 473.2,538.3" fill="#9c7874" opacity="0.85"/>
</g>
<g transform="matrix(1,0.4,0,1,0,0)" filter="url(#fStone)">
<polygon points="445.3,252.5 463.4,242.6 604.7,232.3 586.6,247.0 446.4,256.3" fill="#b9b08c" />
<polygon points="445.3,252.5 446.4,256.3 450.6,292.8 447.0,290.2" fill="#8f8768" />
<polygon points="446.4,256.3 586.6,247.0 586.6,305.4 450.6,292.8" fill="#8d8566" />
<polygon points="446.9,257.1 458.8,256.2 459.1,259.4 447.2,259.9" fill="#a69c76" />
<polygon points="459.6,256.6 471.4,255.1 471.8,259.1 459.9,259.0" fill="#bcb38f" />
<polygon points="472.3,255.4 480.8,254.9 481.1,258.3 472.6,258.7" fill="#a09672" />
<polygon points="481.6,254.6 489.0,254.6 489.2,257.6 481.9,258.4" fill="#a99f7b" />
<polygon points="489.9,254.7 502.8,253.1 503.0,257.6 490.1,257.4" fill="#b3aa85" />
<polygon points="503.6,253.3 517.3,252.7 517.5,256.3 503.9,257.2" fill="#a69c76" />
<polygon points="518.2,252.6 532.6,251.4 532.7,255.8 518.3,256.2" fill="#a09672" />
<polygon points="533.4,251.9 547.4,250.2 547.5,255.3 533.5,255.2" fill="#a99f7b" />
<polygon points="548.3,250.2 555.2,250.5 555.3,254.1 548.4,255.2" fill="#bcb38f" />
<polygon points="556.0,250.4 569.8,248.8 569.8,254.1 556.1,254.1" fill="#9b916d" />
<polygon points="570.6,249.6 582.3,247.9 582.3,253.6 570.6,253.2" fill="#bcb38f" />
<polygon points="583.2,248.3 586.2,248.2 586.2,252.9 583.2,253.0" fill="#a99f7b" />
<polygon points="447.3,260.5 459.2,260.4 459.6,263.4 447.7,264.2" fill="#a99f7b" />
<polygon points="460.0,259.9 475.1,259.6 475.4,262.9 460.4,263.8" fill="#bcb38f" />
<polygon points="475.9,258.9 488.6,259.2 488.8,262.2 476.3,263.6" fill="#a99f7b" />
<polygon points="489.4,259.1 500.5,257.8 500.8,262.6 489.6,262.3" fill="#c3ba97" />
<polygon points="501.4,257.6 508.4,258.3 508.6,261.5 501.7,262.8" fill="#b3aa85" />
<polygon points="509.2,258.2 518.0,256.8 518.3,262.2 509.4,261.5" fill="#b3aa85" />
<polygon points="518.9,257.8 530.9,256.1 531.1,261.8 519.1,261.1" fill="#c3ba97" />
<polygon points="531.8,256.7 543.2,256.0 543.3,260.9 531.9,261.1" fill="#bcb38f" />
<polygon points="544.0,255.8 560.0,255.6 560.0,260.0 544.2,261.1" fill="#a99f7b" />
<polygon points="560.8,254.6 570.9,255.4 570.9,259.2 560.9,260.9" fill="#c3ba97" />
<polygon points="571.7,254.2 586.2,254.6 586.2,258.8 571.8,260.4" fill="#bcb38f" />
<polygon points="447.7,264.4 462.8,264.8 463.1,267.4 448.2,268.5" fill="#a69c76" />
<polygon points="463.6,264.0 479.8,264.1 480.0,267.3 464.0,268.2" fill="#bcb38f" />
<polygon points="480.5,263.5 492.3,263.7 492.5,267.1 480.9,267.9" fill="#a09672" />
<polygon points="493.1,263.3 504.5,263.2 504.7,267.1 493.4,267.5" fill="#c3ba97" />
<polygon points="505.3,262.7 516.8,263.0 516.9,266.7 505.6,267.5" fill="#aea47f" />
<polygon points="517.6,263.2 534.5,261.5 534.7,267.3 517.7,266.4" fill="#aea47f" />
<polygon points="535.4,261.5 554.0,262.1 554.1,265.8 535.5,267.3" fill="#a09672" />
<polygon points="554.8,262.0 565.9,260.7 566.0,266.6 554.9,265.9" fill="#a99f7b" />
<polygon points="566.7,260.7 573.4,261.4 573.4,265.6 566.8,266.6" fill="#a69c76" />
<polygon points="574.2,261.3 583.6,260.2 583.6,266.3 574.3,265.7" fill="#9b916d" />
<polygon points="584.4,260.4 586.2,260.7 586.2,265.7 584.4,266.0" fill="#a99f7b" />
<polygon points="448.3,268.9 455.5,268.7 455.9,272.2 448.6,272.1" fill="#bcb38f" />
<polygon points="456.3,268.6 462.6,268.8 463.0,272.1 456.7,272.3" fill="#a69c76" />
<polygon points="463.5,268.7 471.1,268.5 471.5,272.3 463.8,272.1" fill="#a09672" />
<polygon points="472.0,268.2 488.9,268.6 489.2,271.9 472.3,272.5" fill="#a09672" />
<polygon points="489.7,268.0 499.7,268.4 499.9,271.9 490.0,272.5" fill="#bcb38f" />
<polygon points="500.5,267.8 515.7,268.3 515.9,271.9 500.8,272.6" fill="#bcb38f" />
<polygon points="516.5,267.8 531.2,267.9 531.4,272.1 516.8,272.4" fill="#a69c76" />
<polygon points="532.1,267.6 545.7,267.6 545.8,272.2 532.2,272.4" fill="#a99f7b" />
<polygon points="546.5,267.6 554.0,267.4 554.1,272.3 546.7,272.3" fill="#aea47f" />
<polygon points="554.9,267.7 563.9,267.0 564.0,272.6 554.9,272.0" fill="#aea47f" />
<polygon points="564.8,267.8 576.1,266.6 576.2,272.9 564.8,271.8" fill="#a69c76" />
<polygon points="577.0,266.7 586.2,267.5 586.2,271.9 577.0,272.8" fill="#a99f7b" />
<polygon points="448.7,272.9 456.4,272.9 456.7,276.3 449.1,276.2" fill="#a99f7b" />
<polygon points="457.3,273.3 466.7,272.6 467.2,277.0 457.5,276.0" fill="#bcb38f" />
<polygon points="467.6,272.6 483.1,273.5 483.3,276.4 468.0,277.0" fill="#c3ba97" />
<polygon points="483.8,272.6 495.5,273.6 495.7,276.6 484.2,277.3" fill="#a09672" />
<polygon points="496.3,273.1 505.9,273.1 506.1,277.3 496.6,277.1" fill="#a09672" />
<polygon points="506.7,272.8 514.0,273.6 514.2,277.0 507.0,277.7" fill="#a69c76" />
<polygon points="514.8,273.4 533.1,273.1 533.2,278.0 515.0,277.3" fill="#a09672" />
<polygon points="533.9,273.8 547.3,272.8 547.5,278.6 534.0,277.3" fill="#a69c76" />
<polygon points="548.2,273.6 565.6,273.1 565.6,278.7 548.3,277.8" fill="#b3aa85" />
<polygon points="566.4,273.6 572.8,273.3 572.8,278.7 566.5,278.3" fill="#a69c76" />
<polygon points="573.6,273.2 580.5,273.7 580.5,278.4 573.6,278.8" fill="#a09672" />
<polygon points="581.3,272.9 586.2,274.1 586.2,278.2 581.4,279.3" fill="#9b916d" />
<polygon points="449.2,277.3 464.4,276.9 464.8,281.2 449.5,279.9" fill="#a09672" />
<polygon points="465.3,277.7 481.1,277.2 481.5,281.9 465.5,280.5" fill="#9b916d" />
<polygon points="482.0,277.6 489.1,277.9 489.3,281.7 482.2,281.5" fill="#a99f7b" />
<polygon points="489.9,277.8 506.8,278.3 507.0,282.3 490.2,281.8" fill="#b3aa85" />
<polygon points="507.6,278.3 524.4,278.5 524.5,283.1 507.8,282.3" fill="#c3ba97" />
<polygon points="525.2,278.1 536.0,279.5 536.1,282.9 525.4,283.6" fill="#a99f7b" />
<polygon points="536.8,279.1 543.8,278.9 544.0,283.9 536.9,283.3" fill="#aea47f" />
<polygon points="544.7,279.3 561.7,279.1 561.7,284.7 544.8,283.5" fill="#c3ba97" />
<polygon points="562.5,279.7 580.1,279.6 580.2,285.3 562.5,284.2" fill="#a69c76" />
<polygon points="581.0,280.3 586.2,279.5 586.2,285.8 581.0,284.6" fill="#a99f7b" />
<polygon points="449.7,281.0 462.1,281.5 462.5,285.0 450.0,284.3" fill="#aea47f" />
<polygon points="462.9,281.5 476.4,282.1 476.7,285.8 463.3,285.1" fill="#bcb38f" />
<polygon points="477.2,281.7 495.1,283.2 495.3,286.4 477.6,286.2" fill="#a69c76" />
<polygon points="495.9,282.3 505.2,283.8 505.3,286.8 496.2,287.4" fill="#aea47f" />
<polygon points="506.0,283.4 513.8,283.4 514.0,287.9 506.2,287.3" fill="#a09672" />
<polygon points="514.6,283.4 530.0,284.4 530.1,288.5 514.8,288.0" fill="#a69c76" />
<polygon points="530.8,283.9 543.0,285.1 543.1,289.1 531.0,289.1" fill="#c3ba97" />
<polygon points="543.8,284.4 558.1,285.7 558.2,289.9 544.0,289.8" fill="#c3ba97" />
<polygon points="558.9,285.7 574.9,285.7 574.9,291.5 559.0,290.0" fill="#bcb38f" />
<polygon points="575.7,285.9 586.2,286.6 586.2,291.6 575.8,291.4" fill="#9b916d" />
<polygon points="450.1,284.7 458.8,285.9 459.1,288.7 450.5,288.7" fill="#9b916d" />
<polygon points="459.6,285.9 475.9,286.2 476.2,290.6 459.9,288.7" fill="#a99f7b" />
<polygon points="476.7,286.4 494.5,287.9 494.7,291.4 477.0,290.5" fill="#a09672" />
<polygon points="495.3,287.6 502.7,288.1 502.9,292.2 495.5,291.7" fill="#bcb38f" />
<polygon points="503.5,288.0 519.8,289.2 519.9,293.3 503.7,292.4" fill="#a69c76" />
<polygon points="520.6,289.4 534.9,289.7 535.0,294.8 520.7,293.2" fill="#a69c76" />
<polygon points="535.7,290.4 545.7,290.2 545.8,295.7 535.8,294.2" fill="#aea47f" />
<polygon points="546.5,290.1 563.3,292.2 563.3,296.0 546.6,295.9" fill="#aea47f" />
<polygon points="564.1,291.4 577.1,292.7 577.2,297.3 564.2,296.9" fill="#b3aa85" />
<polygon points="578.0,292.3 586.2,293.1 586.2,298.1 578.0,297.8" fill="#bcb38f" />
<polygon points="450.6,289.4 456.9,289.3 457.3,293.3 450.9,292.1" fill="#bcb38f" />
<polygon points="457.7,289.9 473.3,290.5 473.6,294.8 458.0,292.8" fill="#a99f7b" />
<polygon points="474.1,291.0 485.6,291.6 485.9,295.7 474.4,294.4" fill="#9b916d" />
<polygon points="486.4,292.0 504.2,293.0 504.4,297.5 486.7,295.5" fill="#bcb38f" />
<polygon points="505.0,293.0 521.1,294.8 521.3,298.6 505.2,297.6" fill="#b3aa85" />
<polygon points="521.9,294.6 537.2,295.7 537.3,300.3 522.1,298.9" fill="#b3aa85" />
<polygon points="538.0,295.5 546.2,296.7 546.3,300.8 538.2,300.6" fill="#9b916d" />
<polygon points="547.1,297.0 559.7,296.8 559.8,302.9 547.1,300.6" fill="#a09672" />
<polygon points="560.5,297.8 571.3,297.9 571.4,303.8 560.6,302.0" fill="#bcb38f" />
<polygon points="572.1,298.9 579.2,298.3 579.2,304.7 572.2,302.9" fill="#c3ba97" />
<polygon points="580.0,298.9 586.2,299.5 586.2,304.7 580.1,304.2" fill="#b3aa85" />
<polygon points="446.4,256.3 586.6,247.0 586.6,249.6 446.7,258.5" fill="#5f5843" opacity="0.7"/>
</g>
<g filter="url(#fConcS)">
<polygon points="586.6,481.6 604.7,474.2 604.7,535.8 586.6,541.0" fill="#b4b5b3" />
</g>
<ellipse cx="637" cy="626.6" rx="10" ry="5.8" fill="#cfd0ce" stroke="#a9aaa8" stroke-width="1"/>
<ellipse cx="637" cy="627" rx="6" ry="3.4" fill="none" stroke="#b3b4b2" stroke-width="0.8"/>
</g>
<g opacity="0.45" filter="url(#soft2)"><ellipse cx="528" cy="441" rx="22" ry="4.5" fill="#1f4a18" transform="rotate(12 528 441)"/><ellipse cx="578" cy="452" rx="22" ry="5" fill="#1f4a18" transform="rotate(14 578 452)"/><ellipse cx="630" cy="465" rx="22" ry="5" fill="#1f4a18" transform="rotate(14 630 465)"/></g>
<g id="shrubs" filter="url(#soft2)">
<path d="M536.0,427.2h0M528.5,434.6h0M506.3,414.5h0M507.3,433.9h0M542.5,430.9h0M536.0,410.7h0M540.3,426.1h0M513.7,425.1h0M519.5,435.6h0M533.0,439.3h0M516.8,414.4h0M524.5,400.2h0M525.3,405.1h0M519.7,438.4h0M521.0,439.0h0M504.8,432.7h0M527.3,424.5h0M526.4,412.2h0M513.0,423.2h0M506.3,420.6h0M504.4,428.1h0M539.1,419.5h0M535.8,414.3h0M502.3,422.3h0M522.4,427.0h0M513.8,407.2h0M534.4,432.9h0M535.1,409.8h0M538.6,419.8h0M514.4,426.9h0M538.2,433.1h0M515.4,405.6h0M521.8,416.6h0M507.3,427.4h0M509.1,427.4h0M537.3,423.6h0M511.3,434.0h0M534.2,438.6h0M540.7,414.0h0M528.5,432.6h0M541.0,416.9h0M531.3,403.8h0M513.0,426.3h0M527.3,412.4h0M542.7,432.3h0M528.8,399.3h0M508.0,416.6h0M514.0,404.7h0M539.3,430.3h0M533.7,419.9h0M523.9,417.7h0M514.0,411.0h0M505.2,427.1h0M541.8,433.7h0M518.0,419.8h0M525.1,434.7h0M539.9,426.3h0M533.0,437.5h0M526.6,436.9h0M535.8,427.3h0M519.4,427.9h0M504.4,430.4h0M521.2,407.2h0M527.2,402.9h0M503.5,423.7h0M528.7,438.4h0M515.3,420.9h0M524.4,423.8h0M529.2,405.4h0M517.1,420.2h0M527.6,439.4h0M521.4,404.3h0M517.1,419.4h0M521.2,436.5h0" stroke="#3d7d32" stroke-width="4.4" stroke-linecap="round" fill="none" opacity="1"/>
<path d="M525.4,424.5h0M531.9,438.1h0M537.2,411.9h0M529.9,437.5h0M528.9,440.3h0M516.6,416.0h0M522.7,435.5h0M545.0,419.4h0M537.7,409.7h0M533.7,426.7h0M533.9,425.8h0M518.2,408.8h0M510.4,435.5h0M539.6,425.7h0M521.2,405.6h0M519.1,419.2h0M543.6,421.9h0M541.3,415.7h0M531.4,437.1h0M530.2,421.0h0M542.3,430.4h0M535.7,431.7h0M538.9,426.9h0M508.6,419.9h0M544.5,418.4h0M512.0,434.9h0M527.5,425.5h0M513.7,434.0h0M533.9,418.4h0M524.1,419.0h0M519.6,410.6h0M544.0,414.9h0M512.2,425.2h0M513.2,404.4h0M528.6,415.3h0M513.4,421.1h0M516.8,432.4h0M514.4,419.9h0M538.4,428.9h0M508.2,424.5h0M521.9,415.1h0M524.2,440.2h0M519.7,405.8h0M520.7,406.6h0M504.8,432.4h0M540.6,423.0h0M545.0,425.9h0M518.5,417.3h0M529.1,418.5h0M504.8,428.8h0M531.2,431.2h0M531.1,422.0h0M530.9,423.4h0M534.5,421.3h0M526.9,422.2h0M538.9,423.8h0M522.9,413.0h0M533.2,424.8h0M521.6,439.9h0M512.1,438.8h0M525.5,406.4h0M528.4,434.4h0M534.6,422.2h0M528.3,420.4h0M541.3,415.7h0M519.8,440.1h0M541.5,418.4h0M542.6,424.0h0M535.7,425.5h0M533.3,423.7h0M541.3,420.8h0M516.0,433.7h0M529.1,422.9h0M518.8,412.5h0M515.9,439.1h0M539.3,418.4h0M529.6,413.3h0" stroke="#33702b" stroke-width="4.4" stroke-linecap="round" fill="none" opacity="1"/>
<path d="M537.7,410.8h0M529.9,411.3h0M515.9,428.8h0M529.3,438.9h0M505.4,419.5h0M525.4,439.4h0M510.5,411.4h0M536.6,418.6h0M510.2,410.3h0M525.9,426.2h0M539.8,409.3h0M521.4,423.9h0M540.1,435.2h0M533.3,438.2h0M528.5,433.7h0M538.3,412.7h0M517.6,432.0h0M521.7,438.4h0M522.8,432.3h0M535.7,407.1h0M543.1,427.7h0M541.5,434.0h0M518.0,413.7h0M538.6,412.1h0M514.5,409.0h0M512.9,411.0h0M529.5,436.4h0M517.3,401.1h0M518.8,408.8h0M526.0,411.6h0M534.5,413.0h0M531.9,414.6h0M504.4,429.2h0M506.5,421.9h0M538.5,407.8h0M512.0,433.2h0M508.8,421.9h0M524.5,399.0h0M541.2,422.4h0M518.6,402.4h0M526.5,415.9h0M544.7,421.3h0M527.4,420.8h0M533.1,417.5h0M517.6,407.7h0M518.8,417.9h0M538.1,408.7h0M530.3,409.3h0M522.5,433.3h0M536.1,432.4h0M514.1,411.7h0M533.9,407.2h0M533.4,405.8h0M519.7,438.9h0M525.2,396.4h0M533.9,419.4h0M514.1,432.2h0M541.0,428.3h0M512.5,436.8h0M524.3,421.4h0M512.9,422.3h0M541.5,414.2h0M524.2,436.6h0M511.5,411.2h0M515.9,426.5h0M530.1,434.6h0M530.0,415.8h0M531.6,434.0h0M523.0,430.4h0M543.0,423.9h0M510.6,429.9h0M538.5,416.2h0M519.5,410.7h0M514.5,431.6h0M545.4,424.6h0M542.6,416.9h0M532.7,421.2h0M541.0,431.2h0M538.7,416.1h0M538.8,431.7h0M509.4,419.9h0M519.1,418.0h0M517.6,427.6h0M511.5,417.9h0M532.6,418.9h0M524.5,407.5h0M529.7,431.9h0M524.0,432.9h0M538.4,407.9h0M515.7,436.7h0" stroke="#468837" stroke-width="4" stroke-linecap="round" fill="none" opacity="1"/>
<path d="M526.9,419.1h0M524.0,430.1h0M531.6,425.2h0M517.9,411.7h0M526.9,418.6h0M506.1,434.0h0M518.4,436.9h0M516.7,411.4h0M534.8,430.4h0M523.2,415.0h0M530.8,421.6h0M514.3,403.1h0M530.7,426.5h0M521.1,414.4h0M537.9,410.7h0M530.7,422.7h0M532.2,431.6h0M530.1,435.5h0M531.0,439.6h0M503.8,429.2h0M534.9,418.6h0M521.6,428.2h0M529.8,431.3h0M521.8,415.1h0M527.9,423.6h0M543.6,423.6h0M533.6,435.1h0M528.4,421.3h0M523.8,423.6h0M527.4,416.8h0M529.5,434.0h0M523.3,406.2h0M517.7,438.3h0M536.0,429.9h0M540.2,421.7h0M524.0,422.8h0M533.0,435.9h0M538.4,432.9h0M518.5,437.3h0M539.4,413.5h0M540.8,434.5h0M538.2,423.2h0M528.4,422.7h0M527.3,419.6h0M529.8,427.9h0M540.6,426.7h0M542.2,412.5h0M534.7,427.8h0M519.3,436.3h0M539.3,420.6h0M526.1,432.3h0M537.7,422.4h0M528.4,438.6h0M539.0,432.3h0M540.1,433.5h0M510.4,408.4h0M515.6,419.2h0M535.0,438.9h0M533.2,438.6h0M506.0,422.8h0M528.2,421.0h0M530.9,439.3h0M524.3,415.3h0M521.0,431.0h0M512.9,416.4h0M519.6,439.0h0M539.7,427.7h0M511.6,433.2h0M522.3,408.2h0M509.2,433.8h0M524.7,399.3h0M516.1,437.7h0M514.3,407.2h0M523.8,409.3h0M508.0,428.4h0M540.6,434.5h0M541.2,429.5h0M527.7,404.6h0M504.8,425.6h0M521.0,437.6h0M523.9,425.1h0M508.2,425.9h0M530.0,427.7h0M525.0,408.6h0M541.4,428.8h0M521.1,404.5h0M533.1,433.2h0M522.4,420.7h0M512.9,436.4h0M538.2,406.6h0M523.5,425.5h0M539.8,428.9h0M532.0,425.7h0M506.5,427.5h0M528.5,426.0h0M527.0,431.7h0M533.3,416.0h0M539.0,429.9h0M523.1,408.9h0M517.8,412.8h0M512.6,433.8h0M522.7,406.3h0M538.3,419.8h0M531.3,435.6h0M520.3,429.5h0M520.9,414.9h0M527.9,410.5h0M532.0,407.4h0M538.1,425.3h0M533.3,406.7h0M527.5,437.2h0M527.7,418.2h0M519.8,414.8h0M513.2,424.5h0M529.7,434.8h0M521.8,411.4h0" stroke="#2a5f23" stroke-width="4" stroke-linecap="round" fill="none" opacity="1"/>
<path d="M534.8,407.3h0M531.4,437.2h0M523.4,437.3h0M508.3,408.9h0M526.6,411.1h0M510.4,430.1h0M521.9,437.4h0M524.5,428.1h0M521.3,435.8h0M527.0,411.5h0M510.4,407.1h0M529.8,439.9h0M529.0,400.0h0M510.7,407.1h0M539.0,410.5h0M508.3,432.8h0M523.3,431.9h0M513.3,409.2h0M504.4,420.5h0M516.0,415.9h0M513.0,419.3h0M533.1,439.5h0M517.4,435.3h0M528.8,410.8h0M511.5,420.7h0M531.3,427.3h0M512.3,424.6h0M524.0,396.1h0M515.5,415.2h0M522.6,427.0h0M536.0,416.4h0M526.7,400.8h0M507.0,411.7h0M532.8,427.1h0M516.0,419.1h0M526.2,406.6h0M523.9,399.9h0M536.7,412.9h0M543.3,422.4h0M534.3,436.3h0M526.3,413.3h0M522.9,406.2h0M530.5,420.3h0M517.3,403.1h0M515.5,408.8h0M513.3,437.5h0M533.4,408.1h0M525.9,439.7h0M526.8,411.6h0M526.6,402.9h0M522.7,402.8h0M515.0,415.6h0M506.5,429.4h0M517.1,428.6h0M509.0,417.0h0M541.4,423.1h0M519.1,413.3h0M529.9,429.3h0M517.0,423.6h0M519.1,403.6h0M527.1,403.7h0M530.1,412.9h0M537.1,415.8h0M523.8,430.5h0M513.1,427.5h0M528.6,405.8h0M542.2,415.1h0M523.6,419.9h0M536.8,437.8h0M503.0,426.2h0M532.7,406.7h0M507.5,434.5h0M531.6,415.4h0M511.0,427.2h0M523.8,404.0h0M521.9,422.8h0M503.5,415.9h0M532.2,406.5h0" stroke="#519440" stroke-width="3.6" stroke-linecap="round" fill="none" opacity="1"/>
<path d="M523.8,397.1h0M514.8,405.2h0M528.5,403.9h0M529.8,419.8h0M527.2,432.9h0M527.9,423.1h0M534.5,413.7h0M512.1,420.5h0M512.8,421.8h0M515.0,425.2h0M513.4,409.9h0M534.3,439.3h0M510.5,427.5h0M512.9,427.7h0M515.1,404.9h0M539.7,420.9h0M535.5,407.6h0M525.4,438.5h0M508.1,420.1h0M508.1,421.2h0M505.0,414.4h0M522.1,401.7h0M541.5,433.2h0M523.5,398.1h0M514.3,438.7h0M522.0,416.1h0M538.5,414.0h0M527.2,408.8h0M522.7,398.7h0M513.3,432.7h0M532.2,414.6h0M535.6,408.9h0M522.3,407.2h0M544.8,419.7h0M532.4,406.7h0M526.1,432.0h0M522.7,433.9h0M533.7,426.3h0M510.3,432.2h0M528.9,419.3h0M513.4,418.1h0M505.3,428.9h0M514.9,418.4h0M520.5,410.4h0" stroke="#5fa24b" stroke-width="3" stroke-linecap="round" fill="none" opacity="1"/>
<path d="M546.1,422.4h0M546.0,429.5h0M538.4,440.1h0M531.0,440.3h0M504.7,405.2h0M529.7,396.6h0M545.4,432.3h0M541.5,434.7h0M521.4,442.4h0M524.3,392.6h0M517.9,443.4h0M528.8,395.3h0M535.3,442.2h0M543.1,439.0h0M497.7,422.2h0M501.5,428.1h0M502.4,427.6h0M543.9,434.9h0M545.3,421.7h0M536.1,441.7h0M520.4,444.7h0M502.4,409.5h0M523.3,442.6h0M497.9,427.7h0M529.9,399.0h0M543.0,434.7h0M530.0,399.1h0M549.6,422.3h0M534.8,403.7h0M547.3,425.9h0M541.3,436.6h0M542.4,406.3h0M517.8,441.5h0M501.8,435.3h0M512.7,440.1h0M500.8,430.8h0M544.5,437.1h0M499.0,417.3h0M517.9,444.6h0M543.2,436.8h0M509.0,442.0h0" stroke="#4a8c3a" stroke-width="3" stroke-linecap="round" fill="none" opacity="0.85"/>
<path d="M545.0,415.3h0M505.7,438.3h0M504.3,432.8h0M545.7,426.6h0M499.3,416.2h0M502.6,416.2h0M541.5,404.5h0M509.1,437.6h0M527.6,442.2h0M503.1,435.0h0M512.1,444.1h0M519.5,396.1h0M523.9,441.0h0M512.1,402.7h0M500.0,420.8h0M545.6,414.7h0M528.3,398.4h0M525.9,393.8h0M542.3,410.0h0M527.0,445.3h0M500.6,421.3h0M545.1,414.4h0M532.1,443.2h0M546.4,436.8h0M528.2,442.0h0M536.1,403.5h0M509.6,403.3h0M500.5,414.8h0M501.9,422.7h0M545.8,430.1h0" stroke="#5a9d48" stroke-width="2.8" stroke-linecap="round" fill="none" opacity="0.8"/>
<path d="M516.3,408.3h0M516.2,437.1h0M521.9,399.7h0M504.1,413.5h0M521.3,424.0h0M503.9,425.4h0M525.1,402.0h0M530.0,417.1h0M539.0,419.8h0M539.5,429.2h0M517.8,412.3h0M508.1,414.3h0M506.1,415.1h0M524.8,414.7h0M522.1,428.4h0M504.0,416.3h0M519.4,403.4h0M528.1,425.5h0M511.7,413.9h0M510.0,418.8h0M530.8,416.2h0M505.1,415.0h0M509.4,409.0h0M512.1,405.0h0M540.4,413.9h0M539.0,407.5h0M537.1,411.7h0M514.1,419.2h0M523.9,429.8h0M536.2,412.9h0M504.6,427.7h0M510.3,407.3h0M530.4,403.7h0M515.3,411.6h0M503.4,423.0h0M513.8,415.9h0M529.1,418.9h0M518.2,417.1h0M515.8,403.8h0M536.9,419.0h0M521.1,430.0h0M513.9,415.8h0M525.2,417.3h0M511.5,418.7h0M520.3,411.7h0M521.5,409.9h0M513.8,423.8h0" stroke="#70b15b" stroke-width="2.4" stroke-linecap="round" fill="none" opacity="0.95"/>
<path d="M504.5,411.9h0M505.0,405.6h0M540.5,441.5h0M500.9,419.5h0M500.9,435.2h0M533.0,444.3h0M516.4,442.0h0M540.3,441.1h0M546.4,435.7h0M545.4,412.9h0M516.0,399.4h0M538.2,401.9h0M526.2,395.3h0M502.7,412.0h0M546.2,415.4h0M545.0,411.7h0M499.9,414.3h0M522.5,393.4h0M536.2,440.9h0M541.5,406.4h0M525.0,441.1h0M541.3,408.4h0M525.3,395.6h0M501.3,432.6h0M547.9,429.8h0M517.4,444.6h0M532.2,401.3h0M541.3,440.4h0M534.8,403.2h0M518.3,442.2h0M545.8,423.2h0M526.8,445.2h0M509.1,437.9h0" stroke="#6fb05a" stroke-width="2.4" stroke-linecap="round" fill="none" opacity="0.75"/>
<path d="M500.8,413.7h0M545.2,416.9h0M529.0,395.2h0M546.9,423.4h0M545.0,410.5h0M544.8,427.0h0M537.8,438.4h0M500.8,421.0h0M526.8,393.6h0M501.0,429.4h0M508.4,436.4h0M530.6,399.9h0M506.4,440.0h0M508.9,439.4h0M508.9,440.3h0M547.2,414.5h0M543.9,413.2h0M523.0,393.7h0M498.6,427.8h0M536.2,439.5h0M538.0,437.7h0M520.1,441.1h0M506.0,403.9h0M516.2,397.6h0M529.6,396.0h0M517.6,396.3h0M507.2,436.6h0M518.4,394.7h0M543.3,413.3h0M528.0,394.0h0" stroke="#86c070" stroke-width="2.2" stroke-linecap="round" fill="none" opacity="0.65"/>
<path d="M538.5,419.4h0M519.8,404.8h0M531.1,408.8h0M523.3,396.6h0M512.1,411.7h0M524.7,438.6h0M529.1,401.2h0M522.7,398.5h0M508.4,412.5h0M532.5,413.7h0M518.4,434.8h0M537.4,413.6h0M541.8,430.3h0M525.4,404.3h0M522.2,396.0h0M521.3,434.8h0M537.3,406.0h0M513.5,413.2h0M531.1,417.3h0M528.4,402.8h0M525.3,400.0h0M526.4,400.9h0M521.7,398.8h0M505.3,416.8h0M527.5,400.8h0M505.0,418.9h0M512.4,416.4h0M509.8,406.4h0M522.5,427.6h0M521.0,400.3h0M522.6,431.7h0M505.0,424.1h0M509.8,430.3h0M525.4,408.4h0M502.8,416.8h0M520.2,421.1h0M524.0,426.9h0M504.9,418.6h0M517.7,428.4h0M521.8,398.2h0M519.5,422.1h0M533.2,415.1h0M532.8,411.0h0M503.3,420.3h0M522.9,395.5h0M514.0,439.0h0M535.6,410.3h0M504.1,414.4h0M536.0,409.2h0M506.3,409.6h0M507.9,408.0h0M519.4,420.7h0M510.4,416.9h0M521.5,403.7h0M531.3,408.1h0M515.2,402.3h0M511.9,413.0h0M525.1,405.2h0M518.4,428.6h0" stroke="#86c070" stroke-width="1.9" stroke-linecap="round" fill="none" opacity="0.9"/>
<path d="M535.3,441.2h0M502.2,433.7h0M520.1,445.3h0M500.7,417.6h0M542.0,438.0h0M508.0,436.2h0M536.0,439.1h0M529.7,395.2h0M541.8,408.0h0M500.6,411.9h0M546.8,430.0h0M515.9,398.2h0M530.4,400.5h0M499.9,431.9h0M521.1,393.5h0M543.7,408.3h0M515.0,443.6h0M503.7,435.2h0M509.2,437.7h0M503.9,432.1h0M522.2,392.5h0M525.0,395.4h0M529.9,442.7h0M511.7,402.7h0M540.7,407.5h0M505.7,435.8h0M520.7,397.2h0M516.9,440.3h0M529.5,442.0h0M535.6,402.5h0M539.2,405.1h0M512.0,441.3h0M544.2,432.5h0M501.3,423.9h0M544.7,433.6h0M545.8,420.1h0M528.2,443.1h0M528.2,397.8h0M546.2,427.9h0M513.3,443.5h0M520.3,393.8h0" stroke="#a5d092" stroke-width="1.8" stroke-linecap="round" fill="none" opacity="0.6"/>
<path d="M573.9,416.8h0M561.4,423.5h0M590.8,440.2h0M564.3,420.0h0M571.0,432.9h0M590.4,420.4h0M578.4,448.8h0M587.0,428.2h0M557.8,442.3h0M587.4,440.7h0M578.4,417.1h0M579.7,417.3h0M584.7,435.7h0M570.1,439.7h0M552.6,429.9h0M554.7,437.3h0M587.9,426.6h0M564.3,425.0h0M552.3,428.3h0M563.7,428.8h0M564.5,420.0h0M567.1,441.3h0M591.4,443.5h0M592.9,424.0h0M564.2,414.8h0M581.8,433.8h0M571.9,407.1h0M577.8,414.8h0M580.0,448.3h0M577.3,447.3h0M570.0,435.7h0M571.2,424.5h0M578.0,433.3h0M571.0,407.6h0M588.4,445.8h0M562.0,433.2h0M566.0,425.4h0M568.6,425.9h0M571.5,436.7h0M572.9,415.8h0M564.8,435.8h0M560.3,430.5h0M589.1,434.0h0M570.1,424.1h0M573.1,408.3h0M582.1,422.0h0M577.0,409.8h0M576.3,444.1h0M586.4,426.1h0M566.1,446.8h0M580.4,425.0h0M587.8,431.6h0M580.0,417.8h0M583.6,425.1h0M564.5,420.7h0M573.4,416.4h0M562.9,431.3h0M577.7,437.8h0M574.6,447.8h0M562.1,430.9h0M571.7,411.3h0M574.0,434.7h0M584.4,414.5h0M586.9,437.4h0M559.7,432.1h0M567.9,424.6h0M571.0,429.5h0M571.1,414.1h0M574.3,436.9h0M553.4,430.5h0M562.9,446.1h0M582.4,417.3h0M560.2,433.3h0M585.8,422.3h0" stroke="#3d7d32" stroke-width="4.4" stroke-linecap="round" fill="none" opacity="1"/>
<path d="M562.7,435.1h0M575.5,438.4h0M583.8,443.0h0M554.7,423.9h0M579.3,440.6h0M574.8,417.1h0M574.0,414.2h0M583.1,445.3h0M574.3,443.2h0M577.2,443.6h0M580.4,445.3h0M574.3,436.3h0M586.0,438.8h0M572.1,409.0h0M582.0,418.2h0M587.2,420.4h0M594.0,427.5h0M582.2,434.9h0M572.7,418.9h0M585.5,437.3h0M579.6,436.3h0M590.1,433.6h0M581.5,419.8h0M581.2,422.9h0M558.0,422.6h0M590.4,429.0h0M584.2,448.1h0M571.0,428.5h0M594.1,435.7h0M577.3,438.1h0M555.5,431.6h0M589.6,439.8h0M584.3,417.6h0M573.2,417.8h0M592.0,431.2h0M560.8,438.4h0M575.9,444.5h0M585.5,421.7h0M587.8,423.0h0M572.7,432.0h0M560.8,427.6h0M584.1,431.9h0M557.3,432.1h0M565.0,433.3h0M588.8,430.7h0M580.4,438.4h0M560.1,430.7h0M555.1,439.7h0M570.9,425.6h0M559.1,418.6h0M569.4,442.2h0M568.0,428.0h0M589.4,435.9h0M575.4,441.3h0M578.6,419.2h0M566.2,421.0h0M581.5,423.3h0M555.7,427.1h0M575.0,446.0h0M571.2,443.7h0M592.6,425.9h0M560.1,430.3h0M576.2,440.8h0M580.8,446.1h0M584.8,425.5h0M568.7,419.8h0M586.7,421.8h0M572.1,439.2h0M557.2,431.3h0M573.3,446.7h0M586.1,443.1h0M592.2,426.7h0M573.8,447.3h0M588.5,440.6h0M589.6,433.9h0" stroke="#33702b" stroke-width="4.4" stroke-linecap="round" fill="none" opacity="1"/>
<path d="M555.9,425.0h0M582.8,433.1h0M553.9,424.7h0M564.7,440.4h0M562.6,430.9h0M569.7,411.3h0M565.1,415.1h0M564.5,447.2h0M592.0,439.4h0M588.5,426.4h0M555.5,438.3h0M574.1,426.1h0M585.7,419.5h0M562.3,440.0h0M554.4,429.3h0M574.5,449.9h0M553.6,430.1h0M585.9,438.9h0M555.9,436.2h0M556.1,436.8h0M558.3,437.0h0M572.8,439.6h0M573.7,406.4h0M559.2,425.4h0M574.2,412.5h0M565.8,419.2h0M575.4,416.1h0M586.4,439.7h0M568.4,423.4h0M561.5,416.1h0M579.3,435.2h0M593.4,439.0h0M563.5,444.0h0M557.1,436.4h0M565.8,444.3h0M563.4,448.0h0M579.7,437.4h0M558.3,423.3h0M574.6,436.8h0M587.4,435.2h0M560.4,446.3h0M560.0,430.1h0M577.1,432.7h0M587.4,439.8h0M570.2,429.0h0M589.0,432.9h0M587.3,426.4h0M589.2,418.3h0M555.1,443.1h0M564.1,446.7h0M579.5,415.0h0M585.2,417.7h0M573.3,405.6h0M588.5,435.4h0M572.8,435.4h0M576.4,432.2h0M577.6,414.2h0M570.2,437.9h0M591.2,436.3h0M583.4,415.7h0M579.0,426.4h0M593.0,433.5h0M568.7,419.4h0M579.1,416.1h0M560.1,440.9h0M586.7,419.7h0M579.3,444.3h0M588.3,427.0h0M563.9,445.7h0M567.2,439.3h0M579.3,448.7h0M592.4,435.1h0M574.6,412.1h0M574.7,432.3h0M578.8,410.3h0M574.8,437.8h0M587.4,420.0h0M594.8,435.1h0M571.3,417.8h0M589.1,435.3h0M558.6,435.5h0M578.6,431.3h0M582.5,438.5h0M578.9,431.7h0M579.2,415.7h0M576.5,427.9h0M566.7,431.1h0M577.9,440.0h0M578.0,414.3h0" stroke="#468837" stroke-width="4" stroke-linecap="round" fill="none" opacity="1"/>
<path d="M582.6,429.3h0M565.2,429.2h0M574.6,411.6h0M577.7,411.3h0M575.4,439.0h0M575.0,437.1h0M585.8,433.6h0M564.6,432.6h0M587.0,437.4h0M590.7,426.3h0M572.4,449.8h0M573.2,448.3h0M560.0,433.2h0M583.8,427.2h0M573.5,440.5h0M577.5,435.5h0M593.3,429.9h0M561.8,431.9h0M590.9,431.7h0M573.5,439.2h0M592.4,427.2h0M589.8,423.4h0M576.3,412.2h0M584.7,439.0h0M568.8,438.9h0M589.7,420.0h0M566.8,418.6h0M590.6,440.6h0M558.1,429.4h0M556.7,439.9h0M584.0,421.7h0M571.0,440.0h0M582.7,413.7h0M563.5,430.6h0M564.4,432.0h0M566.0,449.2h0M571.8,442.3h0M561.8,420.3h0M567.7,416.5h0M555.1,430.1h0M582.3,415.1h0M573.1,445.9h0M562.1,427.1h0M571.9,445.3h0M557.9,430.9h0M585.5,443.2h0M585.3,427.1h0M571.9,440.2h0M581.5,449.9h0M589.9,424.4h0M588.9,427.6h0M590.7,430.9h0M594.7,431.3h0M574.5,418.7h0M586.6,430.1h0M587.8,428.5h0M577.0,448.9h0M592.5,430.4h0M584.9,429.0h0M557.3,444.9h0M590.1,420.5h0M586.9,422.2h0M579.4,445.7h0M583.1,438.7h0M587.1,436.4h0M566.0,423.7h0M570.7,438.9h0M571.1,436.6h0M576.0,449.6h0M566.7,436.1h0M578.8,430.0h0M572.3,441.6h0M554.1,436.7h0M568.2,441.7h0M588.5,427.2h0M586.8,425.6h0M581.3,440.5h0M571.4,409.9h0M591.3,438.3h0M578.9,433.3h0M579.7,443.8h0M566.5,438.6h0M574.8,447.0h0M582.4,420.5h0M586.8,438.0h0M571.5,432.3h0M584.1,435.2h0M590.6,434.5h0M554.3,433.4h0M565.1,447.6h0M594.3,429.8h0M574.3,449.8h0M579.3,441.7h0M577.4,433.4h0M582.3,435.2h0M593.7,432.0h0M568.1,422.7h0M589.3,429.3h0M587.7,426.7h0M580.0,427.4h0M588.9,432.3h0M566.2,424.6h0M573.0,448.9h0M584.0,432.9h0M554.1,436.2h0M575.9,411.6h0M574.5,414.7h0M591.2,422.0h0M572.5,446.3h0M571.8,441.1h0M587.4,431.4h0M578.6,411.5h0" stroke="#2a5f23" stroke-width="4" stroke-linecap="round" fill="none" opacity="1"/>
<path d="M570.0,438.7h0M565.5,420.9h0M557.2,425.5h0M574.2,422.7h0M559.7,418.8h0M585.5,415.4h0M594.1,435.7h0M592.3,439.1h0M578.9,430.8h0M581.3,433.4h0M560.0,446.3h0M577.9,432.8h0M572.3,436.7h0M581.7,441.3h0M560.3,419.2h0M591.1,437.8h0M565.4,426.0h0M560.3,441.3h0M554.9,427.9h0M556.5,434.9h0M553.7,434.1h0M586.6,419.5h0M567.5,444.5h0M563.4,432.7h0M559.7,436.7h0M570.9,436.2h0M564.1,420.7h0M572.0,420.3h0M556.3,437.6h0M552.0,434.1h0M578.7,447.0h0M572.1,426.9h0M586.3,436.6h0M566.7,422.2h0M577.9,446.9h0M586.4,447.4h0M585.9,422.7h0M553.7,435.0h0M587.8,416.9h0M578.3,439.5h0M585.3,424.3h0M566.8,417.1h0M562.3,444.8h0M578.4,420.1h0M581.1,425.1h0M570.1,427.2h0M562.3,419.5h0M568.6,416.5h0M573.0,406.1h0M583.6,427.8h0M574.2,437.8h0M589.3,439.1h0M566.0,425.4h0M560.2,439.4h0M583.3,448.4h0M565.5,419.4h0M590.1,443.9h0M575.2,407.1h0M573.9,421.0h0M577.0,408.2h0M578.3,449.5h0M569.9,413.8h0M577.0,441.1h0" stroke="#519440" stroke-width="3.6" stroke-linecap="round" fill="none" opacity="1"/>
<path d="M581.6,431.3h0M585.7,437.9h0M555.7,424.3h0M591.1,421.2h0M585.4,438.0h0M572.6,432.2h0M575.0,420.9h0M587.1,418.1h0M584.4,414.8h0M583.3,418.8h0M577.3,430.9h0M576.5,420.5h0M572.5,420.9h0M581.1,421.1h0M555.4,436.5h0M563.4,437.3h0M563.3,445.8h0M566.9,435.4h0M573.0,406.1h0M569.9,408.2h0M587.5,442.2h0M581.0,424.6h0M561.5,424.3h0M566.0,417.3h0M586.8,420.1h0M565.9,421.9h0M567.6,420.4h0M579.6,426.3h0M582.1,416.5h0M593.3,425.2h0M576.5,417.5h0M582.8,441.8h0M577.8,424.7h0M577.9,424.6h0M576.2,440.1h0M559.9,419.8h0M555.3,427.0h0M583.9,425.6h0M560.0,422.6h0M572.0,438.3h0M567.9,413.4h0M588.2,446.2h0M557.9,417.9h0M578.6,429.4h0M572.9,426.0h0M576.7,411.6h0M575.7,418.4h0M569.1,436.3h0M558.9,427.3h0M584.3,428.9h0M568.6,411.7h0" stroke="#5fa24b" stroke-width="3" stroke-linecap="round" fill="none" opacity="1"/>
<path d="M593.8,447.7h0M590.3,415.2h0M577.8,406.5h0M588.0,449.7h0M565.9,453.5h0M555.9,414.2h0M589.6,450.3h0M585.3,411.3h0M593.8,416.7h0M594.7,429.1h0M578.5,454.6h0M548.5,437.7h0M582.1,411.0h0M593.9,439.8h0M596.3,444.8h0M593.5,422.0h0M574.4,403.3h0M558.7,452.0h0M546.9,433.4h0M552.6,421.0h0M549.7,437.0h0M594.7,445.0h0M587.1,453.6h0M549.0,432.5h0M555.6,414.5h0M597.1,439.4h0M562.1,410.9h0M597.1,439.3h0M596.4,431.8h0M592.6,444.2h0M565.4,409.4h0M576.1,403.3h0M561.5,410.6h0M595.7,438.7h0M580.8,406.1h0M553.0,440.8h0M567.9,450.8h0M554.0,444.1h0M589.2,451.8h0M593.3,417.7h0M595.8,439.0h0" stroke="#4a8c3a" stroke-width="3" stroke-linecap="round" fill="none" opacity="0.85"/>
<path d="M551.4,440.0h0M592.3,445.3h0M598.4,426.1h0M568.7,404.4h0M586.2,450.1h0M560.0,448.4h0M563.9,451.9h0M572.5,403.0h0M561.4,451.5h0M588.4,416.6h0M561.3,411.6h0M595.5,426.3h0M583.9,453.3h0M571.5,405.0h0M594.2,418.5h0M598.0,426.9h0M549.7,432.1h0M578.7,407.1h0M597.0,430.3h0M596.3,437.6h0M583.0,450.6h0M549.7,438.9h0M551.0,429.3h0M574.0,453.4h0M595.1,444.0h0M599.1,437.2h0M551.5,421.8h0M587.0,415.3h0M560.3,411.7h0M589.0,449.0h0M571.2,451.6h0M597.2,432.9h0M589.5,446.4h0M595.2,431.1h0M547.9,432.6h0M588.8,414.5h0M589.8,417.4h0M594.5,446.8h0M581.7,454.6h0M570.5,404.8h0" stroke="#5a9d48" stroke-width="2.8" stroke-linecap="round" fill="none" opacity="0.8"/>
<path d="M551.2,431.4h0M569.2,403.5h0M559.1,449.8h0M598.2,425.0h0M587.3,452.2h0M595.1,445.8h0M558.0,412.1h0M552.4,447.0h0M576.9,404.3h0M552.1,419.3h0M569.0,454.1h0M573.2,452.4h0M593.2,415.4h0M589.2,414.4h0M552.2,443.9h0M594.8,424.9h0M563.1,410.0h0M550.4,428.0h0M561.3,450.5h0M575.4,455.1h0M598.0,430.1h0M597.3,425.1h0M561.8,449.7h0M585.3,410.9h0M586.3,448.7h0M549.7,429.6h0M585.5,414.3h0M572.2,404.9h0M570.0,405.1h0M567.0,406.6h0M574.4,405.6h0M574.6,402.6h0M585.6,451.1h0M562.0,452.5h0M595.3,427.2h0M592.9,444.4h0M596.2,431.9h0" stroke="#6fb05a" stroke-width="2.4" stroke-linecap="round" fill="none" opacity="0.75"/>
<path d="M573.7,408.5h0M558.0,419.8h0M561.0,441.6h0M568.3,448.1h0M568.6,447.0h0M569.8,421.6h0M557.5,430.1h0M580.4,425.6h0M570.6,413.6h0M557.2,442.4h0M563.5,420.7h0M559.9,429.2h0M582.0,444.8h0M566.1,439.0h0M567.6,424.9h0M556.2,435.6h0M583.5,418.6h0M585.2,417.5h0M567.6,416.0h0M559.7,416.1h0M566.7,413.4h0M573.5,430.8h0M589.8,444.6h0M577.7,434.2h0M566.8,442.6h0M567.3,410.9h0M588.0,436.0h0M573.4,421.8h0M568.4,422.1h0M565.8,416.7h0M563.7,438.5h0M568.0,410.0h0M579.4,433.9h0M577.1,438.6h0M581.6,430.9h0M555.4,433.7h0M561.9,415.1h0M571.7,412.3h0M580.8,424.0h0M580.6,413.2h0M575.9,424.8h0M561.2,417.6h0M583.7,438.4h0M588.8,423.1h0M588.2,416.6h0M571.4,406.7h0M575.3,420.3h0M584.5,420.7h0M581.2,449.5h0M568.8,424.1h0M572.3,419.1h0M571.8,407.4h0M585.0,416.1h0M571.5,409.6h0" stroke="#70b15b" stroke-width="2.4" stroke-linecap="round" fill="none" opacity="0.95"/>
<path d="M578.8,405.3h0M548.5,426.5h0M593.1,417.6h0M551.2,420.9h0M572.3,404.1h0M577.2,453.5h0M595.3,442.9h0M550.3,424.4h0M597.6,435.4h0M595.3,432.0h0M583.3,453.2h0M592.8,420.5h0M564.4,453.4h0M597.5,425.3h0M565.9,451.0h0M589.8,415.0h0M587.9,449.3h0M588.4,413.5h0M578.9,405.7h0M581.1,409.7h0M552.2,445.2h0M581.7,407.0h0M586.6,449.0h0M597.8,439.7h0M598.5,435.7h0M557.6,449.4h0M548.2,428.3h0M550.2,428.0h0M596.2,421.1h0M580.9,409.1h0M548.7,426.3h0M549.2,427.3h0M567.3,454.7h0M555.0,420.5h0M553.3,442.0h0M599.1,433.0h0M585.1,451.8h0M597.1,440.6h0M576.7,452.4h0M587.9,448.6h0M592.1,444.4h0" stroke="#86c070" stroke-width="2.2" stroke-linecap="round" fill="none" opacity="0.65"/>
<path d="M580.6,436.1h0M571.8,431.9h0M566.0,447.3h0M555.2,421.5h0M555.8,422.8h0M589.3,443.2h0M568.1,419.7h0M567.3,447.3h0M580.9,430.6h0M573.8,422.4h0M562.7,414.3h0M563.7,446.7h0M576.6,440.0h0M561.7,423.7h0M564.9,443.7h0M561.1,417.8h0M577.0,418.8h0M571.7,427.7h0M555.7,420.4h0M574.6,419.0h0M575.4,407.2h0M552.1,434.6h0M587.5,418.9h0M568.5,412.4h0M570.7,435.8h0M559.9,438.1h0M589.2,443.4h0M563.7,446.2h0M553.7,440.1h0M553.0,425.4h0M557.0,442.0h0M582.9,416.9h0M563.3,443.3h0M560.0,439.4h0M569.8,445.7h0M567.4,411.5h0M559.8,443.5h0M570.0,426.3h0" stroke="#86c070" stroke-width="1.9" stroke-linecap="round" fill="none" opacity="0.9"/>
<path d="M566.5,452.3h0M590.9,418.3h0M552.6,416.5h0M571.5,405.6h0M597.0,440.4h0M590.3,451.2h0M572.3,452.2h0M576.3,403.5h0M556.4,448.9h0M555.8,448.5h0M595.1,431.9h0M553.2,417.7h0M574.4,451.0h0M565.4,407.6h0M547.7,432.9h0M596.0,431.0h0M598.1,433.1h0M550.8,443.7h0M564.9,411.0h0M577.1,405.8h0M580.2,408.8h0M554.9,447.0h0M548.6,435.9h0M595.6,429.9h0M592.7,420.9h0M549.1,424.1h0M558.8,413.3h0M576.1,404.3h0M590.2,445.8h0M568.9,455.2h0M570.7,451.8h0M556.9,447.8h0M587.6,414.1h0M596.4,439.2h0M565.9,405.6h0M588.3,448.7h0M594.2,438.7h0M594.2,422.1h0M549.4,431.1h0M588.8,416.8h0M565.6,451.1h0M594.9,444.2h0M595.1,420.6h0M597.8,439.8h0M583.8,450.1h0" stroke="#a5d092" stroke-width="1.8" stroke-linecap="round" fill="none" opacity="0.6"/>
<path d="M645.2,445.5h0M635.5,436.3h0M633.1,439.8h0M622.9,460.4h0M630.5,444.1h0M614.0,455.9h0M644.6,437.2h0M630.5,458.3h0M623.1,454.7h0M627.8,447.9h0M642.7,443.3h0M621.1,460.3h0M633.4,454.1h0M626.4,434.9h0M641.2,429.0h0M645.9,436.3h0M611.1,453.7h0M646.1,450.9h0M622.6,446.4h0M611.4,453.8h0M628.6,444.2h0M617.3,427.8h0M634.0,439.8h0M628.6,454.8h0M613.9,433.5h0M619.0,459.8h0M632.2,456.7h0M626.8,457.4h0M613.5,433.4h0M636.3,444.6h0M641.0,438.9h0M643.1,451.8h0M618.8,446.1h0M642.9,444.6h0M607.3,445.4h0M629.6,447.7h0M623.2,432.0h0M630.6,435.7h0M646.3,437.7h0M629.9,446.9h0M640.5,448.7h0M640.9,434.0h0M645.3,443.8h0M645.4,441.9h0M639.2,453.3h0M629.9,446.2h0M619.1,455.1h0M645.3,439.7h0M639.1,431.9h0M642.6,453.1h0M635.9,442.5h0M635.1,446.7h0M641.2,431.9h0M630.3,442.1h0M635.0,460.3h0M637.3,437.5h0M620.4,457.1h0M625.8,432.0h0M624.9,451.1h0M615.4,460.5h0M615.7,425.9h0M620.8,452.4h0M632.0,443.4h0M635.5,460.3h0M617.0,458.5h0M624.0,446.7h0M606.6,438.2h0M627.9,445.3h0M637.0,428.8h0" stroke="#33702b" stroke-width="4.4" stroke-linecap="round" fill="none" opacity="1"/>
<path d="M617.4,450.0h0M622.4,450.0h0M614.3,428.5h0M632.9,449.1h0M617.2,453.5h0M634.7,442.2h0M639.1,437.9h0M641.8,443.3h0M631.8,458.7h0M631.0,433.4h0M604.9,445.7h0M640.3,450.4h0M623.4,442.6h0M641.7,434.2h0M607.2,448.8h0M635.2,442.5h0M608.9,435.0h0M645.2,439.7h0M631.9,431.9h0M606.9,449.0h0M615.3,442.8h0M605.9,438.6h0M626.1,446.0h0M634.5,438.7h0M633.7,424.1h0M644.4,442.0h0M641.5,439.3h0M604.2,447.4h0M625.4,437.8h0M634.2,446.4h0M610.2,447.0h0M636.4,431.7h0M635.1,458.0h0M637.9,447.4h0M622.5,462.4h0M612.7,450.1h0M615.4,432.9h0M613.6,452.1h0M640.5,448.1h0M646.7,445.6h0M626.9,460.2h0M628.3,432.9h0M636.6,452.2h0M614.7,437.2h0M642.8,438.4h0M633.2,435.6h0M614.9,448.0h0M644.1,439.3h0M634.2,460.6h0M609.8,448.2h0M632.4,434.1h0M629.6,441.3h0M625.2,432.3h0M643.0,452.9h0M613.0,451.0h0M641.9,443.6h0M630.8,422.8h0M637.4,456.0h0M639.2,428.3h0M625.4,421.3h0M635.7,454.4h0M609.0,447.1h0M610.9,457.8h0M614.9,439.3h0M621.6,453.8h0M605.8,440.2h0M617.2,460.1h0M645.1,446.5h0M640.2,430.1h0M643.7,435.9h0M619.2,458.3h0M639.5,450.8h0M619.5,447.4h0M619.8,454.8h0M620.0,451.7h0M612.7,453.2h0M612.1,437.4h0M634.3,438.6h0M637.6,428.6h0M621.8,438.3h0M628.2,442.9h0M623.9,430.2h0M627.1,451.4h0M616.4,426.2h0M637.1,430.6h0M606.3,446.6h0M618.1,454.2h0M635.9,431.7h0" stroke="#3d7d32" stroke-width="4.4" stroke-linecap="round" fill="none" opacity="1"/>
<path d="M630.2,426.0h0M627.7,439.7h0M610.8,432.3h0M642.7,434.8h0M605.1,440.0h0M624.8,447.2h0M615.5,452.9h0M634.9,454.5h0M629.6,459.5h0M616.4,440.1h0M614.5,427.2h0M623.7,448.3h0M607.9,434.6h0M620.7,425.3h0M640.4,448.7h0M618.7,453.2h0M624.9,438.5h0M608.7,438.3h0M606.6,454.0h0M608.4,440.9h0M629.6,436.5h0M634.8,448.2h0M627.0,438.6h0M626.5,433.4h0M611.0,440.9h0M623.0,436.5h0M621.5,444.9h0M620.0,421.9h0M624.1,430.8h0M609.8,437.4h0M613.1,450.9h0M611.4,432.2h0M608.0,450.8h0M635.5,454.1h0M630.5,461.3h0M628.8,430.5h0M644.3,444.1h0M639.7,438.5h0M624.6,447.6h0M641.6,447.3h0M642.6,436.3h0M624.8,456.6h0M624.0,430.2h0M606.3,435.8h0M623.2,461.1h0M617.7,456.1h0M647.0,444.6h0M632.8,435.9h0M618.5,444.6h0M610.5,429.9h0M634.5,446.1h0M637.3,427.4h0M635.4,445.0h0M634.9,436.1h0M613.4,454.7h0M615.5,460.5h0M628.7,421.4h0M627.8,432.6h0M625.8,445.0h0M610.9,432.1h0M611.4,451.9h0M634.4,459.2h0M617.6,450.7h0M646.8,442.1h0M632.0,438.5h0M634.0,460.4h0M627.9,433.5h0M611.7,449.9h0M626.3,418.4h0M614.6,432.4h0M604.2,446.4h0M628.0,449.7h0M607.3,451.5h0M614.2,455.7h0M620.3,440.4h0M626.5,424.2h0M616.1,454.8h0M621.5,420.8h0M637.8,434.7h0M615.7,438.2h0M625.6,455.2h0M614.2,446.8h0M613.1,440.8h0M638.2,448.0h0M644.7,438.3h0" stroke="#468837" stroke-width="4" stroke-linecap="round" fill="none" opacity="1"/>
<path d="M636.6,455.6h0M622.5,460.3h0M637.8,428.4h0M643.1,455.0h0M632.9,443.2h0M630.2,452.9h0M614.6,459.2h0M639.0,458.1h0M625.7,420.7h0M633.3,458.8h0M636.8,452.1h0M626.7,421.0h0M628.2,421.6h0M612.2,448.2h0M627.2,456.3h0M631.9,447.6h0M624.4,437.7h0M633.2,451.1h0M636.5,448.9h0M642.7,450.2h0M610.7,451.3h0M607.2,439.3h0M625.3,447.5h0M637.4,443.0h0M628.5,440.9h0M643.0,432.5h0M633.9,442.9h0M634.7,447.3h0M643.2,437.8h0M647.2,445.2h0M616.4,456.9h0M611.1,453.8h0M625.0,440.3h0M613.6,429.6h0M620.2,442.2h0M620.8,439.6h0M630.3,448.2h0M628.8,461.8h0M611.9,440.6h0M635.9,450.0h0M631.1,442.9h0M612.8,456.2h0M631.1,439.4h0M636.6,452.1h0M631.1,437.0h0M633.9,444.7h0M629.1,441.9h0M642.8,446.0h0M636.4,456.0h0M620.7,437.7h0M641.4,455.4h0M627.9,449.2h0M643.4,455.7h0M639.2,458.8h0M626.7,446.0h0M607.8,449.6h0M638.7,427.5h0M644.2,452.1h0M618.1,427.9h0M611.6,438.6h0M606.9,453.0h0M622.2,432.8h0M638.2,434.5h0M640.1,452.9h0M633.4,450.3h0M640.8,431.2h0M633.3,445.2h0M626.8,454.0h0M641.1,436.8h0M629.2,431.1h0M611.5,457.4h0M614.4,456.5h0M620.6,446.7h0M627.7,440.9h0M627.0,448.5h0M643.3,449.7h0M626.2,443.5h0M634.6,434.7h0M621.7,459.4h0M637.8,438.7h0M618.2,454.2h0M641.2,430.6h0M638.5,459.1h0M632.7,447.8h0M642.1,455.2h0M636.8,460.0h0M639.5,456.7h0M640.7,457.5h0M642.8,456.1h0M625.2,452.7h0M643.1,438.9h0M628.4,441.9h0M617.4,434.9h0M620.7,456.3h0M624.9,447.8h0M633.4,442.4h0" stroke="#2a5f23" stroke-width="4" stroke-linecap="round" fill="none" opacity="1"/>
<path d="M621.7,443.7h0M613.9,441.4h0M620.1,423.7h0M626.5,420.5h0M639.2,440.0h0M646.2,447.1h0M633.6,450.0h0M616.5,444.6h0M629.0,442.8h0M620.2,437.9h0M638.6,432.4h0M605.8,437.8h0M616.5,439.7h0M638.5,429.7h0M625.3,436.5h0M638.9,429.8h0M614.9,438.1h0M625.3,449.5h0M628.6,441.3h0M624.2,439.1h0M614.7,440.0h0M641.9,438.5h0M616.4,434.8h0M626.3,435.6h0M644.4,442.2h0M610.2,457.4h0M606.4,441.9h0M607.6,437.7h0M630.5,424.4h0M641.4,436.4h0M607.9,452.7h0M629.3,457.5h0M615.7,433.4h0M623.5,422.2h0M623.8,455.1h0M633.1,461.1h0M630.5,457.8h0M620.9,462.0h0M624.4,455.3h0M618.9,453.5h0M645.6,444.0h0M616.8,461.1h0M635.3,451.3h0M636.4,452.6h0M627.0,420.1h0M625.1,462.4h0M615.3,449.7h0M637.7,460.1h0M638.7,433.2h0M638.1,440.3h0M633.6,429.2h0M612.1,432.3h0M608.4,432.8h0M639.5,437.5h0M633.6,446.1h0M641.1,442.6h0M644.5,439.5h0M628.9,456.9h0M620.2,450.0h0M627.1,461.9h0M620.4,449.5h0M644.2,440.2h0M630.5,436.2h0M619.5,446.6h0M619.9,423.1h0M622.5,435.2h0M628.3,455.7h0M637.1,454.4h0M643.7,444.4h0M632.1,434.2h0M635.8,447.7h0M612.3,445.0h0M630.9,423.5h0M608.1,443.6h0M636.6,431.5h0M624.3,432.8h0M640.9,431.9h0M615.7,439.3h0M631.7,437.7h0M628.6,424.3h0M609.4,433.7h0M631.9,431.5h0M623.1,453.3h0M625.6,437.0h0M628.4,419.3h0M626.2,419.6h0" stroke="#519440" stroke-width="3.6" stroke-linecap="round" fill="none" opacity="1"/>
<path d="M625.6,453.2h0M613.0,435.8h0M622.2,425.3h0M606.8,445.2h0M627.9,423.7h0M627.5,434.6h0M630.3,451.0h0M639.0,429.1h0M628.6,440.0h0M623.5,452.5h0M624.7,443.3h0M622.8,434.9h0M631.1,428.4h0M611.1,439.6h0M637.0,446.6h0M606.0,444.6h0M613.6,440.8h0M640.0,433.5h0M633.5,448.8h0M638.3,440.9h0M613.6,444.1h0M611.9,446.0h0M627.0,447.1h0M626.9,427.5h0M614.8,450.4h0M616.6,445.9h0M614.4,437.6h0M646.4,441.3h0M628.1,455.5h0M611.2,429.1h0M626.6,441.8h0M612.4,447.4h0M612.8,439.5h0M624.6,422.8h0M640.2,445.5h0M644.6,448.2h0M621.8,426.2h0M643.3,443.8h0M639.3,450.1h0M640.8,438.1h0M620.3,437.9h0M624.8,429.5h0M615.4,439.7h0M622.1,438.1h0M644.2,451.9h0M615.8,441.8h0M612.9,455.3h0M614.7,458.0h0M639.7,439.5h0M621.0,429.9h0M638.3,433.2h0M633.2,434.0h0M608.0,435.2h0M631.2,441.2h0M632.1,429.9h0M637.3,459.4h0M616.8,447.5h0M605.9,443.5h0M620.9,450.4h0M640.8,438.1h0M607.4,455.1h0M623.9,444.6h0M639.7,445.1h0M632.1,423.0h0M617.6,451.8h0" stroke="#5fa24b" stroke-width="3" stroke-linecap="round" fill="none" opacity="1"/>
<path d="M627.4,417.6h0M604.8,459.2h0M649.1,438.9h0M644.8,433.8h0M626.5,463.7h0M627.6,416.8h0M612.7,465.0h0M626.0,467.2h0M645.4,432.2h0M609.4,426.2h0M632.7,466.9h0M608.7,458.3h0M643.3,427.7h0M604.6,436.2h0M621.8,419.1h0M633.4,422.9h0M616.8,464.0h0M617.2,466.6h0M637.2,422.5h0M615.7,465.7h0M603.5,444.5h0M630.0,417.2h0M633.9,463.8h0M650.7,452.8h0M648.4,440.5h0M645.9,433.3h0M630.4,467.2h0M631.5,466.3h0M616.7,465.1h0M643.7,430.7h0M605.0,456.5h0M625.9,416.2h0" stroke="#4a8c3a" stroke-width="3" stroke-linecap="round" fill="none" opacity="0.85"/>
<path d="M638.0,464.6h0M634.7,419.5h0M605.0,431.9h0M634.2,464.9h0M620.0,416.3h0M615.3,420.5h0M651.9,444.5h0M619.3,463.9h0M644.1,458.5h0M603.2,453.8h0M624.4,417.7h0M648.0,444.7h0M637.6,423.3h0M635.8,466.3h0M628.1,413.9h0M614.0,421.9h0M643.0,428.7h0M612.3,464.3h0M612.3,461.0h0M608.0,459.9h0M621.1,466.5h0M619.0,420.3h0M644.8,428.4h0M638.4,464.8h0M617.3,418.9h0M617.7,420.9h0M642.6,457.2h0M636.3,464.0h0M631.0,420.3h0M601.9,445.7h0M625.5,413.5h0M648.8,454.6h0M643.1,428.3h0M632.9,462.7h0M613.1,424.5h0M642.3,461.5h0M647.5,436.0h0M648.6,452.4h0M602.5,437.0h0M650.3,440.6h0M613.6,425.4h0M612.9,427.2h0" stroke="#5a9d48" stroke-width="2.8" stroke-linecap="round" fill="none" opacity="0.8"/>
<path d="M629.7,429.1h0M643.8,438.9h0M614.9,438.4h0M625.1,430.4h0M633.8,427.6h0M609.5,444.6h0M612.5,458.7h0M618.4,425.7h0M623.2,447.3h0M622.3,434.5h0M611.4,448.1h0M636.5,433.5h0M619.9,425.2h0M630.5,424.1h0M612.8,433.7h0M622.0,437.0h0M629.4,434.1h0M631.8,423.3h0M625.9,419.3h0M609.4,454.7h0M638.7,440.3h0M611.3,431.7h0M617.4,432.8h0M632.4,423.1h0M616.4,441.0h0M607.0,448.6h0M628.7,455.3h0M627.6,421.5h0M641.5,434.5h0M638.6,434.4h0M619.4,435.4h0M615.9,453.3h0M621.5,445.7h0M626.2,425.1h0M608.6,436.1h0M631.4,451.4h0M621.8,432.0h0M643.8,444.2h0M615.3,441.3h0M630.1,430.3h0M637.5,429.0h0M625.4,439.5h0M623.3,423.3h0M631.8,427.5h0M633.1,442.8h0" stroke="#70b15b" stroke-width="2.4" stroke-linecap="round" fill="none" opacity="0.95"/>
<path d="M604.3,437.2h0M639.8,460.3h0M642.1,462.4h0M605.6,434.0h0M649.7,439.4h0M611.1,428.3h0M609.2,429.3h0M619.7,420.9h0M606.5,455.7h0M642.8,428.8h0M634.3,463.9h0M625.7,463.4h0M626.0,464.4h0M599.7,447.2h0M636.7,425.7h0M599.8,445.8h0M639.8,427.5h0M611.9,427.6h0M638.9,464.4h0M600.9,451.2h0M601.9,436.9h0M602.0,444.2h0M609.2,425.1h0M601.0,447.6h0M646.7,449.9h0M604.9,450.4h0M641.7,458.1h0M607.3,461.2h0M604.5,449.9h0M631.8,418.3h0M640.3,425.4h0M630.1,466.4h0" stroke="#6fb05a" stroke-width="2.4" stroke-linecap="round" fill="none" opacity="0.75"/>
<path d="M642.8,463.2h0M605.5,459.9h0M625.7,414.7h0M605.5,428.2h0M644.9,458.9h0M622.6,467.4h0M601.1,437.0h0M639.3,423.6h0M605.2,455.3h0M604.0,448.0h0M605.3,457.5h0M639.4,426.8h0M635.4,465.2h0M649.1,439.8h0M636.1,464.3h0M603.4,446.1h0M610.0,464.3h0M632.8,419.5h0M640.4,460.7h0M617.1,465.9h0M610.9,460.6h0M647.6,437.2h0M599.7,446.7h0M649.8,454.7h0M614.1,466.3h0M614.4,422.3h0M639.3,462.0h0M629.2,414.7h0M623.9,416.7h0M647.4,448.6h0M642.2,458.8h0M633.7,423.8h0M632.4,418.4h0" stroke="#86c070" stroke-width="2.2" stroke-linecap="round" fill="none" opacity="0.65"/>
<path d="M623.7,424.7h0M634.7,439.7h0M619.7,438.8h0M638.9,451.6h0M607.2,433.7h0M612.2,443.3h0M626.5,438.9h0M625.7,418.8h0M613.4,440.4h0M626.7,427.9h0M628.0,433.6h0M625.3,423.3h0M634.1,433.7h0M630.3,425.5h0M623.7,427.5h0M622.5,423.3h0M631.7,427.9h0M614.4,442.5h0M619.5,443.1h0M640.3,444.0h0M622.8,430.3h0M630.4,426.6h0M605.6,438.0h0M609.2,433.3h0M622.0,438.3h0M615.0,440.0h0M626.6,430.5h0M626.4,428.3h0M607.2,435.2h0M618.1,424.6h0M618.4,431.6h0M633.5,431.6h0M608.7,439.7h0M630.4,426.5h0M620.0,442.8h0M610.6,432.6h0M612.5,429.8h0M641.6,442.1h0M617.7,450.6h0M632.0,430.6h0M616.7,439.2h0M615.4,436.7h0M630.9,440.8h0M632.7,429.8h0M638.4,428.7h0M627.7,424.0h0M614.5,449.6h0M628.1,434.0h0M619.8,452.2h0M609.5,441.9h0M610.2,445.5h0M615.5,445.5h0M625.5,453.7h0M627.6,429.9h0M632.5,431.2h0M635.8,453.0h0" stroke="#86c070" stroke-width="1.9" stroke-linecap="round" fill="none" opacity="0.9"/>
<path d="M614.4,464.9h0M618.9,465.2h0M617.7,465.2h0M624.9,462.8h0M650.4,451.9h0M600.9,444.2h0M626.6,463.4h0M611.5,424.0h0M645.6,454.1h0M630.7,466.1h0M649.9,442.1h0M602.1,442.8h0M620.2,463.2h0M636.7,462.2h0M613.2,463.0h0M600.9,450.4h0M628.4,465.4h0M634.0,465.5h0M620.3,464.9h0M648.2,442.9h0M645.6,434.2h0M644.3,430.1h0M648.1,445.2h0M612.4,465.2h0M604.0,454.4h0M645.8,457.2h0M601.7,443.7h0M612.4,460.7h0M635.3,462.0h0M606.4,427.4h0M612.0,461.3h0" stroke="#a5d092" stroke-width="1.8" stroke-linecap="round" fill="none" opacity="0.6"/>
</g>
<circle cx="281" cy="342.5" r="31.5" fill="none" stroke="#1a1a1a" stroke-width="1.1" />
<circle cx="643" cy="572.5" r="31.8" fill="none" stroke="#1a1a1a" stroke-width="1.1" />
<line x1="312.0" y1="333.5" x2="421.5" y2="263.4" stroke="#1a1a1a" stroke-width="1.1" />
<line x1="634.5" y1="541.0" x2="583.0" y2="330.0" stroke="#1a1a1a" stroke-width="1.1" />
<polygon points="423.8,262.0 417.9,269.5 418.1,265.6 414.4,264.2" fill="#1a1a1a" />
<polygon points="582.5,327.5 587.7,335.5 584.1,334.1 581.5,337.0" fill="#1a1a1a" />
<line x1="212.9" y1="236.1" x2="227.3" y2="196.3" stroke="#d63a2f" stroke-width="1.25" />
<circle cx="212" cy="238.5" r="2.5" fill="none" stroke="#d63a2f" stroke-width="1.2" />
<line x1="277.2" y1="271.4" x2="293.2" y2="226.3" stroke="#d63a2f" stroke-width="1.25" />
<circle cx="276.3" cy="273.8" r="2.5" fill="none" stroke="#d63a2f" stroke-width="1.2" />
<line x1="157.1" y1="332.0" x2="104.5" y2="338.8" stroke="#d63a2f" stroke-width="1.25" />
<circle cx="159.7" cy="331.7" r="2.5" fill="none" stroke="#d63a2f" stroke-width="1.2" />
<line x1="184.9" y1="355.8" x2="116.0" y2="370.8" stroke="#d63a2f" stroke-width="1.25" />
<circle cx="187.4" cy="355.2" r="2.5" fill="none" stroke="#d63a2f" stroke-width="1.2" />
<line x1="197.1" y1="366.5" x2="131.0" y2="386.0" stroke="#d63a2f" stroke-width="1.25" />
<circle cx="199.6" cy="365.8" r="2.5" fill="none" stroke="#d63a2f" stroke-width="1.2" />
<line x1="208.9" y1="375.3" x2="145.0" y2="402.5" stroke="#d63a2f" stroke-width="1.25" />
<circle cx="211.3" cy="374.3" r="2.5" fill="none" stroke="#d63a2f" stroke-width="1.2" />
<line x1="251.6" y1="387.4" x2="255.0" y2="425.0" stroke="#d63a2f" stroke-width="1.25" />
<circle cx="251.4" cy="384.8" r="2.5" fill="none" stroke="#d63a2f" stroke-width="1.2" />
<line x1="305.9" y1="384.8" x2="311.0" y2="405.5" stroke="#d63a2f" stroke-width="1.25" />
<circle cx="305.3" cy="382.3" r="2.5" fill="none" stroke="#d63a2f" stroke-width="1.2" />
<line x1="554.3" y1="102.6" x2="670.0" y2="140.0" stroke="#d63a2f" stroke-width="1.25" />
<circle cx="551.8" cy="101.8" r="2.5" fill="none" stroke="#d63a2f" stroke-width="1.2" />
<line x1="555.5" y1="144.9" x2="670.0" y2="185.0" stroke="#d63a2f" stroke-width="1.25" />
<circle cx="553" cy="144" r="2.5" fill="none" stroke="#d63a2f" stroke-width="1.2" />
<line x1="561.5" y1="177.9" x2="670.0" y2="215.5" stroke="#d63a2f" stroke-width="1.25" />
<circle cx="559" cy="177" r="2.5" fill="none" stroke="#d63a2f" stroke-width="1.2" />
<line x1="565.1" y1="211.3" x2="670.0" y2="246.0" stroke="#d63a2f" stroke-width="1.25" />
<circle cx="562.6" cy="210.5" r="2.5" fill="none" stroke="#d63a2f" stroke-width="1.2" />
<line x1="572.0" y1="255.9" x2="670.0" y2="290.5" stroke="#d63a2f" stroke-width="1.25" />
<circle cx="569.5" cy="255" r="2.5" fill="none" stroke="#d63a2f" stroke-width="1.2" /></svg>
<div class="t h1" style="left:17.2px;top:-1.2px">Green Roof and Planter Box Applications</div>
<div class="t h1" style="left:22px;top:660px">Additional Applications</div>
<div class="t h2" style="left:427.6px;top:60.8px">Typical roofgarden installation</div>
<div class="t m" style="left:676px;top:135.4px">Washed Coarse River</div>
<div class="t m" style="left:676px;top:150.6px">Sand</div>
<div class="t m" style="left:676px;top:180px">Waterproof Liner</div>
<div class="t m" style="left:676px;top:209.5px">Geotextile</div>
<div class="t m" style="left:676px;top:239px">30mm Flo-Cell<span style="font-size:7px;position:relative;top:-4.5px">®</span></div>
<div class="t m" style="left:676px;top:283px">Substrate</div>
<div class="t s" style="left:206.8px;top:182.2px">Plantings</div>
<div class="t s" style="left:286.3px;top:213.1px">Soil</div>
<div class="t s" style="left:21.8px;top:332.9px">Washed Coarse</div>
<div class="t s" style="left:45.8px;top:345.7px">River Sand</div>
<div class="t s" style="left:31.6px;top:364.9px">Watreproof Liner</div>
<div class="t s" style="left:77.8px;top:381.7px">Geotextile</div>
<div class="t s" style="left:65.6px;top:403.9px">30mm Flo-Cell®</div>
<div class="t s" style="left:229.3px;top:429.3px">Discharge</div>
<div class="t s" style="left:240.8px;top:441.8px">Point</div>
<div class="t s" style="left:296.3px;top:408.8px">Substrate</div>
</body></html>
